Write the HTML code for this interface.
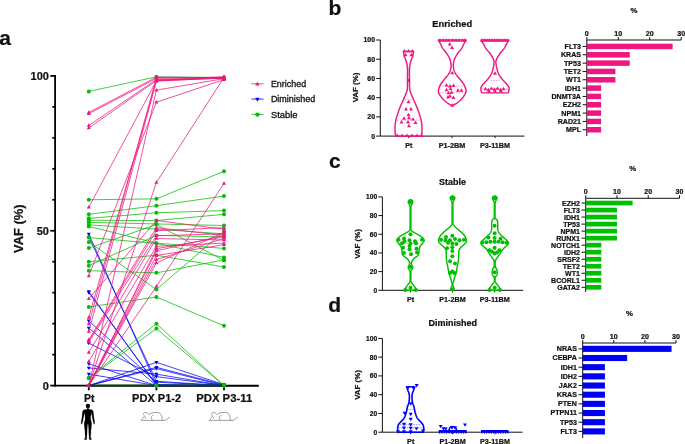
<!DOCTYPE html>
<html><head><meta charset="utf-8"><style>
html,body{margin:0;padding:0;background:#fff;overflow:hidden;}
svg{display:block;will-change:transform;}
text{font-family:"Liberation Sans",sans-serif;fill:#111;stroke:#111;stroke-width:0.22px;}
</style></head><body>
<svg width="685" height="444" viewBox="0 0 685 444">
<rect width="685" height="444" fill="#fff"/>
<text x="-0.7" y="44.8" font-size="21" font-weight="bold" text-anchor="start" >a</text>
<text x="328.4" y="14.9" font-size="21" font-weight="bold" text-anchor="start" >b</text>
<text x="329.1" y="168.2" font-size="21" font-weight="bold" text-anchor="start" >c</text>
<text x="328.3" y="311.5" font-size="21" font-weight="bold" text-anchor="start" >d</text>
<g stroke="#000" stroke-width="1.8" fill="none">
<path d="M55.1,75.00V386.4"/>
<path d="M55.1,385.6H258.7"/>
<path d="M50.3,385.60H55.5"/>
<path d="M52.3,354.63H55.5"/>
<path d="M52.3,323.66H55.5"/>
<path d="M52.3,292.69H55.5"/>
<path d="M52.3,261.72H55.5"/>
<path d="M50.3,230.75H55.5"/>
<path d="M52.3,199.78H55.5"/>
<path d="M52.3,168.81H55.5"/>
<path d="M52.3,137.84H55.5"/>
<path d="M52.3,106.87H55.5"/>
<path d="M50.3,75.90H55.5"/>
<path d="M88.8,385.5V390.3"/>
<path d="M156.4,385.5V390.3"/>
<path d="M224.0,385.5V390.3"/>
</g>
<text x="48.9" y="80.00" font-size="11" font-weight="bold" text-anchor="end" >100</text>
<text x="48.9" y="234.85" font-size="11" font-weight="bold" text-anchor="end" >50</text>
<text x="48.9" y="389.70" font-size="11" font-weight="bold" text-anchor="end" >0</text>
<text x="0" y="0" font-size="12.8" font-weight="bold" text-anchor="middle" textLength="48.5" lengthAdjust="spacingAndGlyphs" transform="translate(23.0,228.65) rotate(-90)">VAF (%)</text>
<text x="89.3" y="401.6" font-size="10.5" font-weight="bold" text-anchor="middle" >Pt</text>
<text x="156.6" y="401.6" font-size="10.5" font-weight="bold" text-anchor="middle" textLength="49" lengthAdjust="spacingAndGlyphs">PDX P1-2</text>
<text x="224.2" y="401.6" font-size="10.5" font-weight="bold" text-anchor="middle" textLength="56" lengthAdjust="spacingAndGlyphs">PDX P3-11</text>
<g stroke="#0000F5" stroke-width="0.75" fill="none">
<polyline points="88.8,234.16 156.4,384.67 224.0,385.60"/>
<polyline points="88.8,236.94 156.4,381.26 224.0,385.60"/>
<polyline points="88.8,291.45 156.4,385.60 224.0,385.60"/>
<polyline points="88.8,292.69 156.4,384.67 224.0,385.60"/>
<polyline points="88.8,320.87 156.4,382.19 224.0,385.60"/>
<polyline points="88.8,328.00 156.4,385.60 224.0,385.60"/>
<polyline points="88.8,343.17 156.4,376.62 224.0,385.60"/>
<polyline points="88.8,363.92 156.4,385.60 224.0,385.60"/>
<polyline points="88.8,367.95 156.4,374.14 224.0,385.60"/>
<polyline points="88.8,374.14 156.4,385.60 224.0,385.60"/>
<polyline points="88.8,385.60 156.4,362.37 224.0,384.67"/>
<polyline points="88.8,385.60 156.4,367.33 224.0,384.98"/>
<polyline points="88.8,385.60 156.4,368.57 224.0,385.60"/>
<polyline points="88.8,385.60 156.4,385.60 224.0,385.60"/>
</g>
<path d="M88.80,236.30L90.80,232.84L86.80,232.84Z" fill="#0000F5"/>
<path d="M156.40,386.82L158.40,383.35L154.40,383.35Z" fill="#0000F5"/>
<path d="M224.00,387.75L226.00,384.28L222.00,384.28Z" fill="#0000F5"/>
<path d="M88.80,239.09L90.80,235.63L86.80,235.63Z" fill="#0000F5"/>
<path d="M156.40,383.41L158.40,379.95L154.40,379.95Z" fill="#0000F5"/>
<path d="M224.00,387.75L226.00,384.28L222.00,384.28Z" fill="#0000F5"/>
<path d="M88.80,293.60L90.80,290.13L86.80,290.13Z" fill="#0000F5"/>
<path d="M156.40,387.75L158.40,384.28L154.40,384.28Z" fill="#0000F5"/>
<path d="M224.00,387.75L226.00,384.28L222.00,384.28Z" fill="#0000F5"/>
<path d="M88.80,294.84L90.80,291.37L86.80,291.37Z" fill="#0000F5"/>
<path d="M156.40,386.82L158.40,383.35L154.40,383.35Z" fill="#0000F5"/>
<path d="M224.00,387.75L226.00,384.28L222.00,384.28Z" fill="#0000F5"/>
<path d="M88.80,323.02L90.80,319.56L86.80,319.56Z" fill="#0000F5"/>
<path d="M156.40,384.34L158.40,380.88L154.40,380.88Z" fill="#0000F5"/>
<path d="M224.00,387.75L226.00,384.28L222.00,384.28Z" fill="#0000F5"/>
<path d="M88.80,330.14L90.80,326.68L86.80,326.68Z" fill="#0000F5"/>
<path d="M156.40,387.75L158.40,384.28L154.40,384.28Z" fill="#0000F5"/>
<path d="M224.00,387.75L226.00,384.28L222.00,384.28Z" fill="#0000F5"/>
<path d="M88.80,345.32L90.80,341.85L86.80,341.85Z" fill="#0000F5"/>
<path d="M156.40,378.77L158.40,375.30L154.40,375.30Z" fill="#0000F5"/>
<path d="M224.00,387.75L226.00,384.28L222.00,384.28Z" fill="#0000F5"/>
<path d="M88.80,366.07L90.80,362.60L86.80,362.60Z" fill="#0000F5"/>
<path d="M156.40,387.75L158.40,384.28L154.40,384.28Z" fill="#0000F5"/>
<path d="M224.00,387.75L226.00,384.28L222.00,384.28Z" fill="#0000F5"/>
<path d="M88.80,370.09L90.80,366.63L86.80,366.63Z" fill="#0000F5"/>
<path d="M156.40,376.29L158.40,372.82L154.40,372.82Z" fill="#0000F5"/>
<path d="M224.00,387.75L226.00,384.28L222.00,384.28Z" fill="#0000F5"/>
<path d="M88.80,376.29L90.80,372.82L86.80,372.82Z" fill="#0000F5"/>
<path d="M156.40,387.75L158.40,384.28L154.40,384.28Z" fill="#0000F5"/>
<path d="M224.00,387.75L226.00,384.28L222.00,384.28Z" fill="#0000F5"/>
<path d="M88.80,387.75L90.80,384.28L86.80,384.28Z" fill="#0000F5"/>
<path d="M156.40,364.52L158.40,361.06L154.40,361.06Z" fill="#0000F5"/>
<path d="M224.00,386.82L226.00,383.35L222.00,383.35Z" fill="#0000F5"/>
<path d="M88.80,387.75L90.80,384.28L86.80,384.28Z" fill="#0000F5"/>
<path d="M156.40,369.48L158.40,366.01L154.40,366.01Z" fill="#0000F5"/>
<path d="M224.00,387.13L226.00,383.66L222.00,383.66Z" fill="#0000F5"/>
<path d="M88.80,387.75L90.80,384.28L86.80,384.28Z" fill="#0000F5"/>
<path d="M156.40,370.71L158.40,367.25L154.40,367.25Z" fill="#0000F5"/>
<path d="M224.00,387.75L226.00,384.28L222.00,384.28Z" fill="#0000F5"/>
<path d="M88.80,387.75L90.80,384.28L86.80,384.28Z" fill="#0000F5"/>
<path d="M156.40,387.75L158.40,384.28L154.40,384.28Z" fill="#0000F5"/>
<path d="M224.00,387.75L226.00,384.28L222.00,384.28Z" fill="#0000F5"/>
<g stroke="#00BE00" stroke-width="0.75" fill="none">
<polyline points="88.8,91.39 156.4,76.83 224.0,77.45"/>
<polyline points="88.8,199.78 156.4,198.85 224.0,171.29"/>
<polyline points="88.8,214.34 156.4,205.66 224.0,196.06"/>
<polyline points="88.8,218.36 156.4,212.79 224.0,210.62"/>
<polyline points="88.8,220.22 156.4,220.53 224.0,214.34"/>
<polyline points="88.8,222.39 156.4,223.94 224.0,225.49"/>
<polyline points="88.8,224.87 156.4,229.20 224.0,233.85"/>
<polyline points="88.8,226.41 156.4,243.14 224.0,248.40"/>
<polyline points="88.8,237.56 156.4,243.45 224.0,257.38"/>
<polyline points="88.8,241.90 156.4,289.59 224.0,231.37"/>
<polyline points="88.8,248.09 156.4,224.56 224.0,260.48"/>
<polyline points="88.8,261.72 156.4,255.22 224.0,266.98"/>
<polyline points="88.8,265.75 156.4,235.40 224.0,236.94"/>
<polyline points="88.8,270.70 156.4,272.87 224.0,259.86"/>
<polyline points="88.8,306.94 156.4,297.03 224.0,325.83"/>
<polyline points="88.8,377.86 156.4,323.66 224.0,385.60"/>
<polyline points="88.8,378.17 156.4,328.62 224.0,385.60"/>
<polyline points="88.8,385.60 156.4,385.60 224.0,385.60"/>
<polyline points="88.8,385.60 156.4,385.60 224.0,385.60"/>
</g>
<circle cx="88.80" cy="91.39" r="2.0" fill="#00BE00"/>
<circle cx="156.40" cy="76.83" r="2.0" fill="#00BE00"/>
<circle cx="224.00" cy="77.45" r="2.0" fill="#00BE00"/>
<circle cx="88.80" cy="199.78" r="2.0" fill="#00BE00"/>
<circle cx="156.40" cy="198.85" r="2.0" fill="#00BE00"/>
<circle cx="224.00" cy="171.29" r="2.0" fill="#00BE00"/>
<circle cx="88.80" cy="214.34" r="2.0" fill="#00BE00"/>
<circle cx="156.40" cy="205.66" r="2.0" fill="#00BE00"/>
<circle cx="224.00" cy="196.06" r="2.0" fill="#00BE00"/>
<circle cx="88.80" cy="218.36" r="2.0" fill="#00BE00"/>
<circle cx="156.40" cy="212.79" r="2.0" fill="#00BE00"/>
<circle cx="224.00" cy="210.62" r="2.0" fill="#00BE00"/>
<circle cx="88.80" cy="220.22" r="2.0" fill="#00BE00"/>
<circle cx="156.40" cy="220.53" r="2.0" fill="#00BE00"/>
<circle cx="224.00" cy="214.34" r="2.0" fill="#00BE00"/>
<circle cx="88.80" cy="222.39" r="2.0" fill="#00BE00"/>
<circle cx="156.40" cy="223.94" r="2.0" fill="#00BE00"/>
<circle cx="224.00" cy="225.49" r="2.0" fill="#00BE00"/>
<circle cx="88.80" cy="224.87" r="2.0" fill="#00BE00"/>
<circle cx="156.40" cy="229.20" r="2.0" fill="#00BE00"/>
<circle cx="224.00" cy="233.85" r="2.0" fill="#00BE00"/>
<circle cx="88.80" cy="226.41" r="2.0" fill="#00BE00"/>
<circle cx="156.40" cy="243.14" r="2.0" fill="#00BE00"/>
<circle cx="224.00" cy="248.40" r="2.0" fill="#00BE00"/>
<circle cx="88.80" cy="237.56" r="2.0" fill="#00BE00"/>
<circle cx="156.40" cy="243.45" r="2.0" fill="#00BE00"/>
<circle cx="224.00" cy="257.38" r="2.0" fill="#00BE00"/>
<circle cx="88.80" cy="241.90" r="2.0" fill="#00BE00"/>
<circle cx="156.40" cy="289.59" r="2.0" fill="#00BE00"/>
<circle cx="224.00" cy="231.37" r="2.0" fill="#00BE00"/>
<circle cx="88.80" cy="248.09" r="2.0" fill="#00BE00"/>
<circle cx="156.40" cy="224.56" r="2.0" fill="#00BE00"/>
<circle cx="224.00" cy="260.48" r="2.0" fill="#00BE00"/>
<circle cx="88.80" cy="261.72" r="2.0" fill="#00BE00"/>
<circle cx="156.40" cy="255.22" r="2.0" fill="#00BE00"/>
<circle cx="224.00" cy="266.98" r="2.0" fill="#00BE00"/>
<circle cx="88.80" cy="265.75" r="2.0" fill="#00BE00"/>
<circle cx="156.40" cy="235.40" r="2.0" fill="#00BE00"/>
<circle cx="224.00" cy="236.94" r="2.0" fill="#00BE00"/>
<circle cx="88.80" cy="270.70" r="2.0" fill="#00BE00"/>
<circle cx="156.40" cy="272.87" r="2.0" fill="#00BE00"/>
<circle cx="224.00" cy="259.86" r="2.0" fill="#00BE00"/>
<circle cx="88.80" cy="306.94" r="2.0" fill="#00BE00"/>
<circle cx="156.40" cy="297.03" r="2.0" fill="#00BE00"/>
<circle cx="224.00" cy="325.83" r="2.0" fill="#00BE00"/>
<circle cx="88.80" cy="377.86" r="2.0" fill="#00BE00"/>
<circle cx="156.40" cy="323.66" r="2.0" fill="#00BE00"/>
<circle cx="224.00" cy="385.60" r="2.0" fill="#00BE00"/>
<circle cx="88.80" cy="378.17" r="2.0" fill="#00BE00"/>
<circle cx="156.40" cy="328.62" r="2.0" fill="#00BE00"/>
<circle cx="224.00" cy="385.60" r="2.0" fill="#00BE00"/>
<circle cx="88.80" cy="385.60" r="2.0" fill="#00BE00"/>
<circle cx="156.40" cy="385.60" r="2.0" fill="#00BE00"/>
<circle cx="224.00" cy="385.60" r="2.0" fill="#00BE00"/>
<circle cx="88.80" cy="385.60" r="2.0" fill="#00BE00"/>
<circle cx="156.40" cy="385.60" r="2.0" fill="#00BE00"/>
<circle cx="224.00" cy="385.60" r="2.0" fill="#00BE00"/>
<g stroke="#EE1680" stroke-width="0.75" fill="none">
<polyline points="88.8,112.44 156.4,77.14 224.0,77.76"/>
<polyline points="88.8,113.68 156.4,78.38 224.0,77.14"/>
<polyline points="88.8,125.45 156.4,79.62 224.0,78.38"/>
<polyline points="88.8,127.93 156.4,80.55 224.0,77.45"/>
<polyline points="88.8,207.21 156.4,80.86 224.0,78.07"/>
<polyline points="88.8,275.97 156.4,102.22 224.0,79.62"/>
<polyline points="88.8,317.47 156.4,80.24 224.0,76.83"/>
<polyline points="88.8,323.97 156.4,77.76 224.0,78.38"/>
<polyline points="88.8,331.40 156.4,81.16 224.0,77.76"/>
<polyline points="88.8,385.60 156.4,90.15 224.0,78.69"/>
<polyline points="88.8,385.60 156.4,182.44 224.0,77.45"/>
<polyline points="88.8,298.57 156.4,220.53 224.0,229.20"/>
<polyline points="88.8,339.76 156.4,227.65 224.0,235.40"/>
<polyline points="88.8,341.00 156.4,230.75 224.0,227.65"/>
<polyline points="88.8,342.24 156.4,235.71 224.0,233.85"/>
<polyline points="88.8,352.46 156.4,238.49 224.0,240.04"/>
<polyline points="88.8,361.44 156.4,246.24 224.0,243.14"/>
<polyline points="88.8,385.60 156.4,248.71 224.0,236.94"/>
<polyline points="88.8,385.60 156.4,250.88 224.0,235.40"/>
<polyline points="88.8,385.60 156.4,255.53 224.0,244.69"/>
<polyline points="88.8,385.60 156.4,259.55 224.0,238.49"/>
<polyline points="88.8,385.60 156.4,262.96 224.0,232.30"/>
<polyline points="88.8,385.60 156.4,286.50 224.0,183.37"/>
</g>
<path d="M88.80,110.30L90.80,113.76L86.80,113.76Z" fill="#EE1680"/>
<path d="M156.40,74.99L158.40,78.46L154.40,78.46Z" fill="#EE1680"/>
<path d="M224.00,75.61L226.00,79.07L222.00,79.07Z" fill="#EE1680"/>
<path d="M88.80,111.54L90.80,115.00L86.80,115.00Z" fill="#EE1680"/>
<path d="M156.40,76.23L158.40,79.69L154.40,79.69Z" fill="#EE1680"/>
<path d="M224.00,74.99L226.00,78.46L222.00,78.46Z" fill="#EE1680"/>
<path d="M88.80,123.30L90.80,126.77L86.80,126.77Z" fill="#EE1680"/>
<path d="M156.40,77.47L158.40,80.93L154.40,80.93Z" fill="#EE1680"/>
<path d="M224.00,76.23L226.00,79.69L222.00,79.69Z" fill="#EE1680"/>
<path d="M88.80,125.78L90.80,129.25L86.80,129.25Z" fill="#EE1680"/>
<path d="M156.40,78.40L158.40,81.86L154.40,81.86Z" fill="#EE1680"/>
<path d="M224.00,75.30L226.00,78.76L222.00,78.76Z" fill="#EE1680"/>
<path d="M88.80,205.07L90.80,208.53L86.80,208.53Z" fill="#EE1680"/>
<path d="M156.40,78.71L158.40,82.17L154.40,82.17Z" fill="#EE1680"/>
<path d="M224.00,75.92L226.00,79.38L222.00,79.38Z" fill="#EE1680"/>
<path d="M88.80,273.82L90.80,277.28L86.80,277.28Z" fill="#EE1680"/>
<path d="M156.40,100.08L158.40,103.54L154.40,103.54Z" fill="#EE1680"/>
<path d="M224.00,77.47L226.00,80.93L222.00,80.93Z" fill="#EE1680"/>
<path d="M88.80,315.32L90.80,318.78L86.80,318.78Z" fill="#EE1680"/>
<path d="M156.40,78.09L158.40,81.55L154.40,81.55Z" fill="#EE1680"/>
<path d="M224.00,74.68L226.00,78.15L222.00,78.15Z" fill="#EE1680"/>
<path d="M88.80,321.82L90.80,325.29L86.80,325.29Z" fill="#EE1680"/>
<path d="M156.40,75.61L158.40,79.07L154.40,79.07Z" fill="#EE1680"/>
<path d="M224.00,76.23L226.00,79.69L222.00,79.69Z" fill="#EE1680"/>
<path d="M88.80,329.25L90.80,332.72L86.80,332.72Z" fill="#EE1680"/>
<path d="M156.40,79.02L158.40,82.48L154.40,82.48Z" fill="#EE1680"/>
<path d="M224.00,75.61L226.00,79.07L222.00,79.07Z" fill="#EE1680"/>
<path d="M88.80,383.45L90.80,386.92L86.80,386.92Z" fill="#EE1680"/>
<path d="M156.40,88.00L158.40,91.46L154.40,91.46Z" fill="#EE1680"/>
<path d="M224.00,76.54L226.00,80.00L222.00,80.00Z" fill="#EE1680"/>
<path d="M88.80,383.45L90.80,386.92L86.80,386.92Z" fill="#EE1680"/>
<path d="M156.40,180.29L158.40,183.75L154.40,183.75Z" fill="#EE1680"/>
<path d="M224.00,75.30L226.00,78.76L222.00,78.76Z" fill="#EE1680"/>
<path d="M88.80,296.43L90.80,299.89L86.80,299.89Z" fill="#EE1680"/>
<path d="M156.40,218.38L158.40,221.85L154.40,221.85Z" fill="#EE1680"/>
<path d="M224.00,227.05L226.00,230.52L222.00,230.52Z" fill="#EE1680"/>
<path d="M88.80,337.62L90.80,341.08L86.80,341.08Z" fill="#EE1680"/>
<path d="M156.40,225.51L158.40,228.97L154.40,228.97Z" fill="#EE1680"/>
<path d="M224.00,233.25L226.00,236.71L222.00,236.71Z" fill="#EE1680"/>
<path d="M88.80,338.86L90.80,342.32L86.80,342.32Z" fill="#EE1680"/>
<path d="M156.40,228.60L158.40,232.07L154.40,232.07Z" fill="#EE1680"/>
<path d="M224.00,225.51L226.00,228.97L222.00,228.97Z" fill="#EE1680"/>
<path d="M88.80,340.09L90.80,343.56L86.80,343.56Z" fill="#EE1680"/>
<path d="M156.40,233.56L158.40,237.02L154.40,237.02Z" fill="#EE1680"/>
<path d="M224.00,231.70L226.00,235.16L222.00,235.16Z" fill="#EE1680"/>
<path d="M88.80,350.31L90.80,353.78L86.80,353.78Z" fill="#EE1680"/>
<path d="M156.40,236.34L158.40,239.81L154.40,239.81Z" fill="#EE1680"/>
<path d="M224.00,237.89L226.00,241.36L222.00,241.36Z" fill="#EE1680"/>
<path d="M88.80,359.30L90.80,362.76L86.80,362.76Z" fill="#EE1680"/>
<path d="M156.40,244.09L158.40,247.55L154.40,247.55Z" fill="#EE1680"/>
<path d="M224.00,240.99L226.00,244.45L222.00,244.45Z" fill="#EE1680"/>
<path d="M88.80,383.45L90.80,386.92L86.80,386.92Z" fill="#EE1680"/>
<path d="M156.40,246.56L158.40,250.03L154.40,250.03Z" fill="#EE1680"/>
<path d="M224.00,234.80L226.00,238.26L222.00,238.26Z" fill="#EE1680"/>
<path d="M88.80,383.45L90.80,386.92L86.80,386.92Z" fill="#EE1680"/>
<path d="M156.40,248.73L158.40,252.20L154.40,252.20Z" fill="#EE1680"/>
<path d="M224.00,233.25L226.00,236.71L222.00,236.71Z" fill="#EE1680"/>
<path d="M88.80,383.45L90.80,386.92L86.80,386.92Z" fill="#EE1680"/>
<path d="M156.40,253.38L158.40,256.84L154.40,256.84Z" fill="#EE1680"/>
<path d="M224.00,242.54L226.00,246.00L222.00,246.00Z" fill="#EE1680"/>
<path d="M88.80,383.45L90.80,386.92L86.80,386.92Z" fill="#EE1680"/>
<path d="M156.40,257.40L158.40,260.87L154.40,260.87Z" fill="#EE1680"/>
<path d="M224.00,236.34L226.00,239.81L222.00,239.81Z" fill="#EE1680"/>
<path d="M88.80,383.45L90.80,386.92L86.80,386.92Z" fill="#EE1680"/>
<path d="M156.40,260.81L158.40,264.28L154.40,264.28Z" fill="#EE1680"/>
<path d="M224.00,230.15L226.00,233.61L222.00,233.61Z" fill="#EE1680"/>
<path d="M88.80,383.45L90.80,386.92L86.80,386.92Z" fill="#EE1680"/>
<path d="M156.40,284.35L158.40,287.81L154.40,287.81Z" fill="#EE1680"/>
<path d="M224.00,181.22L226.00,184.68L222.00,184.68Z" fill="#EE1680"/>
<path d="M88.8,385.9H258.7" stroke="#000" stroke-width="1.2"/>
<path d="M88.8,385.05H224" stroke="#0B5E0B" stroke-width="1.0"/>
<circle cx="156.40" cy="385.60" r="2.0" fill="#00BE00"/>
<circle cx="224.00" cy="385.60" r="2.0" fill="#00BE00"/>
<path d="M88.80,383.45L90.80,386.92L86.80,386.92Z" fill="#EE1680"/>
<path d="M251.4,83.8H263.5" stroke="#EE1680" stroke-width="0.8"/>
<path d="M257.40,81.64L259.60,85.45L255.20,85.45Z" fill="#EE1680"/>
<text x="270.9" y="87.1" font-size="9.1" font-weight="normal" text-anchor="start" textLength="35.3" lengthAdjust="spacingAndGlyphs" style="stroke-width:0.3px">Enriched</text>
<path d="M251.4,99.1H263.5" stroke="#0000F5" stroke-width="0.8"/>
<path d="M257.40,101.66L259.60,97.85L255.20,97.85Z" fill="#0000F5"/>
<text x="270.9" y="102.39999999999999" font-size="9.1" font-weight="normal" text-anchor="start" textLength="44.4" lengthAdjust="spacingAndGlyphs" style="stroke-width:0.3px">Diminished</text>
<path d="M251.4,114.4H263.5" stroke="#00BE00" stroke-width="0.8"/>
<circle cx="257.40" cy="114.60" r="2.2" fill="#00BE00"/>
<text x="270.9" y="117.7" font-size="9.1" font-weight="normal" text-anchor="start" textLength="26.6" lengthAdjust="spacingAndGlyphs" style="stroke-width:0.3px">Stable</text>
<path d="M87.92,408.14L88.77,408.23L88.96,409.18L90.19,409.46L91.89,409.74L92.84,410.41L93.31,411.54L93.60,414.19L93.88,417.03L94.35,419.87L94.64,422.04L94.73,423.46L94.35,424.31L93.79,423.75L93.22,421.95L92.65,419.39L92.08,416.56L91.61,414.19L91.33,413.06L91.04,414.19L90.76,416.56L90.66,418.92L91.04,420.81L91.61,422.52L91.61,424.79L91.33,427.63L90.95,430.46L90.85,433.30L90.66,436.42L90.57,437.84L91.23,438.60L91.70,439.36L90.95,439.83L89.43,439.83L89.15,438.60L88.96,436.42L88.77,432.64L88.58,428.38L88.30,424.79L87.92,423.84L87.54,424.79L87.26,428.38L87.07,432.64L86.88,436.42L86.69,438.60L86.41,439.83L84.89,439.83L84.14,439.36L84.61,438.60L85.27,437.84L85.18,436.42L84.99,433.30L84.89,430.46L84.51,427.63L84.23,424.79L84.23,422.52L84.80,420.81L85.18,418.92L85.08,416.56L84.80,414.19L84.51,413.06L84.23,414.19L83.76,416.56L83.19,419.39L82.62,421.95L82.05,423.75L81.49,424.31L81.11,423.46L81.20,422.04L81.49,419.87L81.96,417.03L82.24,414.19L82.53,411.54L83.00,410.41L83.95,409.74L85.65,409.46L86.88,409.18L87.07,408.23L87.92,408.14Z" fill="#000" stroke="#000" stroke-width="0.15" stroke-linejoin="round"/><ellipse cx="87.92" cy="405.96" rx="2.15" ry="2.3" fill="#000"/>
<path d="M141.2,420.4H165.29999999999998M141.2,420.4L144.6,416.0M144.6,416.0C142.79999999999998,414.9 143.6,412.4 145.2,412.4C146.6,412.2 147.79999999999998,413.2 148.79999999999998,414.5M148.79999999999998,414.5C150.2,413.6 151.7,412.7 153.79999999999998,412.5H158.2C160.5,412.7 161.7,415.2 162.2,418.7L162.39999999999998,420.4M165.29999999999998,420.4L169.79999999999998,417.1M153.5,415.2C151.6,415.8 150.6,417.2 151.6,418.6L152.2,420.4" stroke="#555" stroke-width="0.55" fill="none"/><circle cx="145.5" cy="417.9" r="0.6" fill="#e33"/>
<path d="M209.3,420.4H233.4M209.3,420.4L212.70000000000002,416.0M212.70000000000002,416.0C210.9,414.9 211.70000000000002,412.4 213.3,412.4C214.70000000000002,412.2 215.9,413.2 216.9,414.5M216.9,414.5C218.3,413.6 219.8,412.7 221.9,412.5H226.3C228.60000000000002,412.7 229.8,415.2 230.3,418.7L230.5,420.4M233.4,420.4L237.9,417.1M221.60000000000002,415.2C219.70000000000002,415.8 218.70000000000002,417.2 219.70000000000002,418.6L220.3,420.4" stroke="#555" stroke-width="0.55" fill="none"/><circle cx="213.60000000000002" cy="417.9" r="0.6" fill="#e33"/>
<g stroke="#111" stroke-width="1.0" fill="none">
<path d="M380.3,40.00V136.10H524.4"/>
<path d="M376.2,136.10H380.3"/>
<path d="M376.2,116.88H380.3"/>
<path d="M376.2,97.66H380.3"/>
<path d="M376.2,78.44H380.3"/>
<path d="M376.2,59.22H380.3"/>
<path d="M376.2,40.00H380.3"/>
<path d="M408.8,136.10v2"/>
<path d="M452.0,136.10v2"/>
<path d="M495.0,136.10v2"/>
</g>
<text x="375.0" y="138.55" font-size="6.9" font-weight="bold" text-anchor="end" >0</text>
<text x="375.0" y="119.33" font-size="6.9" font-weight="bold" text-anchor="end" >20</text>
<text x="375.0" y="100.11" font-size="6.9" font-weight="bold" text-anchor="end" >40</text>
<text x="375.0" y="80.89" font-size="6.9" font-weight="bold" text-anchor="end" >60</text>
<text x="375.0" y="61.67" font-size="6.9" font-weight="bold" text-anchor="end" >80</text>
<text x="375.0" y="42.45" font-size="6.9" font-weight="bold" text-anchor="end" >100</text>
<text x="408.8" y="147.70" font-size="7.2" font-weight="bold" text-anchor="middle" >Pt</text>
<text x="452.0" y="147.70" font-size="7.2" font-weight="bold" text-anchor="middle" >P1-2BM</text>
<text x="495.0" y="147.70" font-size="7.2" font-weight="bold" text-anchor="middle" >P3-11BM</text>
<text x="0" y="0" font-size="7.9" font-weight="bold" text-anchor="middle" transform="translate(358.1,87.5) rotate(-90)">VAF (%)</text>
<text x="452.2" y="27.15" font-size="9.3" font-weight="bold" text-anchor="middle" >Enriched</text>
<path d="M397.0,120.05H420.0" stroke="#EE1680" stroke-width="0.6" stroke-dasharray="1.6,1.1" opacity="0.75"/>
<path d="M404.5,99.58H412.5" stroke="#EE1680" stroke-width="0.6" stroke-dasharray="1.6,1.1" opacity="0.75"/>
<path d="M439.7,92.85H464.7" stroke="#EE1680" stroke-width="0.6" stroke-dasharray="1.6,1.1" opacity="0.75"/>
<path d="M439.7,86.13H464.7" stroke="#EE1680" stroke-width="0.6" stroke-dasharray="1.6,1.1" opacity="0.75"/>
<path d="M490.5,80.36H499.5" stroke="#EE1680" stroke-width="0.6" stroke-dasharray="1.6,1.1" opacity="0.75"/>
<path d="M482,89.01H508" stroke="#EE1680" stroke-width="0.6" stroke-dasharray="1.6,1.1" opacity="0.75"/>
<path d="M413.50,51.53L413.49,51.68L413.47,51.87L413.45,52.09L413.43,52.34L413.40,52.61L413.37,52.89L413.34,53.18L413.30,53.45L413.27,53.72L413.24,54.00L413.21,54.28L413.17,54.57L413.13,54.86L413.08,55.18L413.00,55.51L412.90,55.86L412.77,56.22L412.62,56.61L412.44,57.01L412.26,57.42L412.06,57.85L411.87,58.29L411.68,58.75L411.50,59.22L411.33,59.71L411.15,60.21L410.98,60.73L410.81,61.26L410.64,61.81L410.48,62.37L410.33,62.95L410.20,63.54L410.08,64.13L409.97,64.70L409.86,65.27L409.77,65.86L409.68,66.49L409.61,67.18L409.55,67.96L409.50,68.83L409.47,69.82L409.45,70.93L409.44,72.12L409.45,73.36L409.46,74.65L409.48,75.94L409.49,77.21L409.50,78.44L409.50,79.69L409.51,81.00L409.51,82.34L409.52,83.67L409.53,84.94L409.54,86.12L409.57,87.17L409.60,88.05L409.64,88.72L409.67,89.21L409.71,89.56L409.76,89.82L409.81,90.04L409.89,90.27L409.98,90.55L410.10,90.93L410.24,91.40L410.40,91.88L410.58,92.39L410.78,92.93L410.99,93.48L411.22,94.05L411.45,94.65L411.70,95.26L411.96,95.89L412.23,96.53L412.52,97.20L412.81,97.89L413.12,98.59L413.44,99.32L413.77,100.07L414.10,100.83L414.45,101.63L414.82,102.45L415.21,103.30L415.60,104.17L415.99,105.05L416.38,105.93L416.75,106.80L417.10,107.65L417.43,108.50L417.76,109.34L418.07,110.18L418.38,111.02L418.67,111.86L418.96,112.70L419.23,113.54L419.50,114.38L419.76,115.22L420.02,116.06L420.27,116.90L420.51,117.74L420.73,118.59L420.94,119.43L421.13,120.27L421.30,121.11L421.45,121.96L421.57,122.82L421.68,123.69L421.77,124.56L421.85,125.41L421.91,126.25L421.96,127.06L422.00,127.84L422.02,128.59L422.02,129.33L422.00,130.06L421.98,130.77L421.94,131.44L421.89,132.08L421.85,132.67L421.80,133.22L421.75,133.72L421.68,134.18L421.61,134.61L421.54,134.99L421.46,135.34L421.40,135.64L421.34,135.89L421.30,136.10L395.70,136.10L395.66,135.89L395.60,135.64L395.54,135.34L395.46,134.99L395.39,134.61L395.32,134.18L395.25,133.72L395.20,133.22L395.15,132.67L395.11,132.08L395.06,131.44L395.02,130.77L395.00,130.06L394.98,129.33L394.98,128.59L395.00,127.84L395.04,127.06L395.09,126.25L395.15,125.41L395.23,124.56L395.32,123.69L395.43,122.82L395.55,121.96L395.70,121.11L395.87,120.27L396.06,119.43L396.27,118.59L396.49,117.74L396.73,116.90L396.98,116.06L397.24,115.22L397.50,114.38L397.77,113.54L398.04,112.70L398.33,111.86L398.62,111.02L398.93,110.18L399.24,109.34L399.57,108.50L399.90,107.65L400.25,106.80L400.62,105.93L401.01,105.05L401.40,104.17L401.79,103.30L402.18,102.45L402.55,101.63L402.90,100.83L403.23,100.07L403.56,99.32L403.88,98.59L404.19,97.89L404.48,97.20L404.77,96.53L405.04,95.89L405.30,95.26L405.55,94.65L405.78,94.05L406.01,93.48L406.22,92.93L406.42,92.39L406.60,91.88L406.76,91.40L406.90,90.93L407.02,90.55L407.11,90.27L407.19,90.04L407.24,89.82L407.29,89.56L407.33,89.21L407.36,88.72L407.40,88.05L407.43,87.17L407.46,86.12L407.47,84.94L407.48,83.67L407.49,82.34L407.49,81.00L407.50,79.69L407.50,78.44L407.51,77.21L407.52,75.94L407.54,74.65L407.55,73.36L407.56,72.12L407.55,70.93L407.53,69.82L407.50,68.83L407.45,67.96L407.39,67.18L407.32,66.49L407.23,65.86L407.14,65.27L407.03,64.70L406.92,64.13L406.80,63.54L406.67,62.95L406.52,62.37L406.36,61.81L406.19,61.26L406.02,60.73L405.85,60.21L405.67,59.71L405.50,59.22L405.32,58.75L405.13,58.29L404.94,57.85L404.74,57.42L404.56,57.01L404.38,56.61L404.23,56.22L404.10,55.86L404.00,55.51L403.92,55.18L403.87,54.86L403.83,54.57L403.79,54.28L403.76,54.00L403.73,53.72L403.70,53.45L403.66,53.18L403.63,52.89L403.60,52.61L403.57,52.34L403.55,52.09L403.53,51.87L403.51,51.68L403.50,51.53Z" fill="none" stroke="#EE1680" stroke-width="1.45" stroke-linejoin="round"/>
<path d="M466.10,40.00L466.02,40.14L465.91,40.32L465.79,40.54L465.65,40.78L465.50,41.05L465.34,41.33L465.17,41.62L465.00,41.92L464.83,42.23L464.64,42.55L464.45,42.89L464.25,43.24L464.04,43.61L463.83,43.99L463.62,44.39L463.40,44.80L463.19,45.23L462.99,45.68L462.79,46.13L462.59,46.61L462.36,47.09L462.12,47.60L461.83,48.12L461.50,48.65L461.11,49.20L460.66,49.77L460.18,50.36L459.67,50.97L459.15,51.58L458.64,52.20L458.15,52.83L457.70,53.45L457.27,54.09L456.85,54.74L456.44,55.41L456.04,56.07L455.66,56.74L455.30,57.39L454.98,58.03L454.70,58.64L454.46,59.24L454.25,59.82L454.07,60.38L453.92,60.94L453.79,61.48L453.68,62.02L453.59,62.54L453.50,63.06L453.43,63.57L453.38,64.07L453.34,64.55L453.33,65.02L453.32,65.49L453.34,65.96L453.36,66.43L453.40,66.91L453.45,67.39L453.51,67.87L453.58,68.35L453.67,68.83L453.77,69.31L453.89,69.79L454.04,70.27L454.20,70.75L454.38,71.23L454.58,71.70L454.80,72.17L455.03,72.64L455.29,73.12L455.57,73.60L455.87,74.09L456.20,74.60L456.56,75.11L456.96,75.62L457.38,76.14L457.82,76.67L458.28,77.21L458.75,77.76L459.23,78.33L459.70,78.92L460.19,79.54L460.71,80.19L461.25,80.85L461.79,81.53L462.32,82.22L462.83,82.90L463.29,83.56L463.70,84.21L464.06,84.84L464.39,85.46L464.68,86.09L464.95,86.70L465.18,87.30L465.39,87.89L465.56,88.46L465.70,89.01L465.82,89.53L465.92,90.00L466.00,90.46L466.04,90.90L466.04,91.34L465.99,91.81L465.88,92.31L465.70,92.85L465.44,93.46L465.09,94.12L464.69,94.81L464.23,95.52L463.74,96.24L463.23,96.94L462.71,97.61L462.20,98.24L461.69,98.83L461.15,99.41L460.59,99.97L460.03,100.51L459.45,101.03L458.86,101.53L458.28,102.01L457.70,102.47L457.09,102.91L456.43,103.35L455.75,103.77L455.07,104.17L454.43,104.54L453.85,104.86L453.36,105.13L453.00,105.35L451.40,105.35L451.04,105.13L450.55,104.86L449.97,104.54L449.33,104.17L448.65,103.77L447.97,103.35L447.31,102.91L446.70,102.47L446.12,102.01L445.54,101.53L444.95,101.03L444.37,100.51L443.81,99.97L443.25,99.41L442.71,98.83L442.20,98.24L441.69,97.61L441.17,96.94L440.66,96.24L440.17,95.52L439.71,94.81L439.31,94.12L438.96,93.46L438.70,92.85L438.52,92.31L438.41,91.81L438.36,91.34L438.36,90.90L438.40,90.46L438.48,90.00L438.58,89.53L438.70,89.01L438.84,88.46L439.01,87.89L439.22,87.30L439.45,86.70L439.72,86.09L440.01,85.46L440.34,84.84L440.70,84.21L441.11,83.56L441.57,82.90L442.08,82.22L442.61,81.53L443.15,80.85L443.69,80.19L444.21,79.54L444.70,78.92L445.17,78.33L445.65,77.76L446.12,77.21L446.57,76.67L447.02,76.14L447.44,75.62L447.84,75.11L448.20,74.60L448.53,74.09L448.83,73.60L449.11,73.12L449.37,72.64L449.60,72.17L449.82,71.70L450.02,71.23L450.20,70.75L450.36,70.27L450.51,69.79L450.63,69.31L450.73,68.83L450.82,68.35L450.89,67.87L450.95,67.39L451.00,66.91L451.04,66.43L451.06,65.96L451.08,65.49L451.07,65.02L451.06,64.55L451.02,64.07L450.97,63.57L450.90,63.06L450.81,62.54L450.72,62.02L450.61,61.48L450.48,60.94L450.33,60.38L450.15,59.82L449.94,59.24L449.70,58.64L449.42,58.03L449.10,57.39L448.74,56.74L448.36,56.07L447.96,55.41L447.55,54.74L447.13,54.09L446.70,53.45L446.25,52.83L445.76,52.20L445.25,51.58L444.73,50.97L444.22,50.36L443.74,49.77L443.29,49.20L442.90,48.65L442.57,48.12L442.28,47.60L442.04,47.09L441.81,46.61L441.61,46.13L441.41,45.68L441.21,45.23L441.00,44.80L440.78,44.39L440.57,43.99L440.36,43.61L440.15,43.24L439.95,42.89L439.76,42.55L439.57,42.23L439.40,41.92L439.23,41.62L439.06,41.33L438.90,41.05L438.75,40.78L438.61,40.54L438.49,40.32L438.38,40.14L438.30,40.00Z" fill="none" stroke="#EE1680" stroke-width="1.45" stroke-linejoin="round"/>
<path d="M509.00,40.00L508.91,40.14L508.80,40.32L508.66,40.54L508.51,40.78L508.35,41.05L508.17,41.33L507.99,41.62L507.80,41.92L507.61,42.23L507.40,42.55L507.18,42.89L506.95,43.24L506.72,43.61L506.48,43.99L506.24,44.39L506.00,44.80L505.77,45.23L505.56,45.68L505.35,46.13L505.14,46.61L504.91,47.09L504.65,47.60L504.35,48.12L504.00,48.65L503.59,49.19L503.14,49.74L502.64,50.30L502.11,50.87L501.57,51.47L501.03,52.10L500.50,52.75L500.00,53.45L499.49,54.22L498.95,55.05L498.39,55.92L497.85,56.82L497.34,57.71L496.88,58.59L496.49,59.42L496.20,60.18L496.01,60.88L495.91,61.54L495.89,62.17L495.91,62.76L495.97,63.34L496.05,63.90L496.14,64.44L496.20,64.99L496.26,65.51L496.33,65.99L496.41,66.46L496.51,66.91L496.61,67.36L496.73,67.82L496.86,68.31L497.00,68.83L497.14,69.38L497.28,69.95L497.42,70.54L497.58,71.14L497.76,71.76L497.97,72.38L498.21,73.00L498.50,73.63L498.84,74.28L499.22,74.95L499.64,75.62L500.09,76.31L500.56,76.99L501.04,77.66L501.52,78.30L502.00,78.92L502.48,79.51L502.99,80.08L503.52,80.63L504.04,81.17L504.57,81.70L505.07,82.22L505.55,82.73L506.00,83.25L506.43,83.76L506.85,84.26L507.25,84.76L507.64,85.26L507.99,85.74L508.31,86.21L508.58,86.66L508.80,87.09L508.95,87.50L509.05,87.90L509.09,88.28L509.10,88.65L509.08,89.00L509.05,89.34L509.02,89.66L509.00,89.97L508.98,90.26L508.95,90.54L508.91,90.81L508.86,91.05L508.81,91.29L508.74,91.50L508.67,91.71L508.60,91.89L508.51,92.07L508.41,92.22L508.29,92.37L508.18,92.49L508.06,92.61L507.95,92.70L507.86,92.79L507.80,92.85L482.20,92.85L482.14,92.79L482.05,92.70L481.94,92.61L481.82,92.49L481.71,92.37L481.59,92.22L481.49,92.07L481.40,91.89L481.33,91.71L481.26,91.50L481.19,91.29L481.14,91.05L481.09,90.81L481.05,90.54L481.02,90.26L481.00,89.97L480.98,89.66L480.95,89.34L480.92,89.00L480.90,88.65L480.91,88.28L480.95,87.90L481.05,87.50L481.20,87.09L481.42,86.66L481.69,86.21L482.01,85.74L482.36,85.26L482.75,84.76L483.15,84.26L483.57,83.76L484.00,83.25L484.45,82.73L484.93,82.22L485.43,81.70L485.96,81.17L486.48,80.63L487.01,80.08L487.52,79.51L488.00,78.92L488.48,78.30L488.96,77.66L489.44,76.99L489.91,76.31L490.36,75.62L490.78,74.95L491.16,74.28L491.50,73.63L491.79,73.00L492.03,72.38L492.24,71.76L492.42,71.14L492.58,70.54L492.72,69.95L492.86,69.38L493.00,68.83L493.14,68.31L493.27,67.82L493.39,67.36L493.49,66.91L493.59,66.46L493.67,65.99L493.74,65.51L493.80,64.99L493.86,64.44L493.95,63.90L494.03,63.34L494.09,62.76L494.11,62.17L494.09,61.54L493.99,60.88L493.80,60.18L493.51,59.42L493.12,58.59L492.66,57.71L492.15,56.82L491.61,55.92L491.05,55.05L490.51,54.22L490.00,53.45L489.50,52.75L488.97,52.10L488.43,51.47L487.89,50.87L487.36,50.30L486.86,49.74L486.41,49.19L486.00,48.65L485.65,48.12L485.35,47.60L485.09,47.09L484.86,46.61L484.65,46.13L484.44,45.68L484.23,45.23L484.00,44.80L483.76,44.39L483.52,43.99L483.28,43.61L483.05,43.24L482.82,42.89L482.60,42.55L482.39,42.23L482.20,41.92L482.01,41.62L481.83,41.33L481.65,41.05L481.49,40.78L481.34,40.54L481.20,40.32L481.09,40.14L481.00,40.00Z" fill="none" stroke="#EE1680" stroke-width="1.45" stroke-linejoin="round"/>
<path d="M404.50,48.90L406.50,52.37L402.50,52.37Z" fill="#EE1680"/>
<path d="M408.50,48.90L410.50,52.37L406.50,52.37Z" fill="#EE1680"/>
<path d="M412.50,48.90L414.50,52.37L410.50,52.37Z" fill="#EE1680"/>
<path d="M405.50,52.75L407.50,56.21L403.50,56.21Z" fill="#EE1680"/>
<path d="M411.50,52.75L413.50,56.21L409.50,56.21Z" fill="#EE1680"/>
<path d="M408.50,78.60L410.50,82.06L406.50,82.06Z" fill="#EE1680"/>
<path d="M408.50,99.84L410.50,103.30L406.50,103.30Z" fill="#EE1680"/>
<path d="M406.00,107.04L408.00,110.51L404.00,110.51Z" fill="#EE1680"/>
<path d="M411.00,107.04L413.00,110.51L409.00,110.51Z" fill="#EE1680"/>
<path d="M408.50,112.81L410.50,116.27L406.50,116.27Z" fill="#EE1680"/>
<path d="M404.00,116.17L406.00,119.64L402.00,119.64Z" fill="#EE1680"/>
<path d="M409.00,115.69L411.00,119.16L407.00,119.16Z" fill="#EE1680"/>
<path d="M413.00,117.13L415.00,120.60L411.00,120.60Z" fill="#EE1680"/>
<path d="M401.50,120.02L403.50,123.48L399.50,123.48Z" fill="#EE1680"/>
<path d="M408.00,120.02L410.00,123.48L406.00,123.48Z" fill="#EE1680"/>
<path d="M415.50,120.50L417.50,123.96L413.50,123.96Z" fill="#EE1680"/>
<path d="M409.00,123.86L411.00,127.33L407.00,127.33Z" fill="#EE1680"/>
<path d="M397.00,133.47L399.00,136.94L395.00,136.94Z" fill="#EE1680"/>
<path d="M402.00,133.47L404.00,136.94L400.00,136.94Z" fill="#EE1680"/>
<path d="M407.00,133.47L409.00,136.94L405.00,136.94Z" fill="#EE1680"/>
<path d="M412.00,133.47L414.00,136.94L410.00,136.94Z" fill="#EE1680"/>
<path d="M417.00,133.47L419.00,136.94L415.00,136.94Z" fill="#EE1680"/>
<path d="M421.50,133.47L423.50,136.94L419.50,136.94Z" fill="#EE1680"/>
<path d="M440.00,38.33L442.00,41.80L438.00,41.80Z" fill="#EE1680"/>
<path d="M443.00,38.33L445.00,41.80L441.00,41.80Z" fill="#EE1680"/>
<path d="M446.00,38.33L448.00,41.80L444.00,41.80Z" fill="#EE1680"/>
<path d="M449.00,38.33L451.00,41.80L447.00,41.80Z" fill="#EE1680"/>
<path d="M452.50,38.33L454.50,41.80L450.50,41.80Z" fill="#EE1680"/>
<path d="M456.00,38.33L458.00,41.80L454.00,41.80Z" fill="#EE1680"/>
<path d="M459.00,38.33L461.00,41.80L457.00,41.80Z" fill="#EE1680"/>
<path d="M462.50,38.33L464.50,41.80L460.50,41.80Z" fill="#EE1680"/>
<path d="M465.00,38.33L467.00,41.80L463.00,41.80Z" fill="#EE1680"/>
<path d="M449.80,41.98L451.80,45.45L447.80,45.45Z" fill="#EE1680"/>
<path d="M452.00,45.54L454.00,49.00L450.00,49.00Z" fill="#EE1680"/>
<path d="M452.20,70.91L454.20,74.37L450.20,74.37Z" fill="#EE1680"/>
<path d="M446.50,83.02L448.50,86.48L444.50,86.48Z" fill="#EE1680"/>
<path d="M450.00,83.98L452.00,87.44L448.00,87.44Z" fill="#EE1680"/>
<path d="M453.50,83.50L455.50,86.96L451.50,86.96Z" fill="#EE1680"/>
<path d="M446.50,87.82L448.50,91.29L444.50,91.29Z" fill="#EE1680"/>
<path d="M450.50,86.86L452.50,90.33L448.50,90.33Z" fill="#EE1680"/>
<path d="M458.00,88.30L460.00,91.77L456.00,91.77Z" fill="#EE1680"/>
<path d="M461.50,88.30L463.50,91.77L459.50,91.77Z" fill="#EE1680"/>
<path d="M448.50,90.71L450.50,94.17L446.50,94.17Z" fill="#EE1680"/>
<path d="M451.50,90.23L453.50,93.69L449.50,93.69Z" fill="#EE1680"/>
<path d="M450.00,94.07L452.00,97.53L448.00,97.53Z" fill="#EE1680"/>
<path d="M453.50,95.51L455.50,98.98L451.50,98.98Z" fill="#EE1680"/>
<path d="M448.00,95.03L450.00,98.50L446.00,98.50Z" fill="#EE1680"/>
<path d="M452.20,103.20L454.20,106.66L450.20,106.66Z" fill="#EE1680"/>
<path d="M482.00,38.24L484.00,41.70L480.00,41.70Z" fill="#EE1680"/>
<path d="M484.50,38.24L486.50,41.70L482.50,41.70Z" fill="#EE1680"/>
<path d="M487.00,38.24L489.00,41.70L485.00,41.70Z" fill="#EE1680"/>
<path d="M489.50,38.24L491.50,41.70L487.50,41.70Z" fill="#EE1680"/>
<path d="M492.00,38.24L494.00,41.70L490.00,41.70Z" fill="#EE1680"/>
<path d="M494.50,38.24L496.50,41.70L492.50,41.70Z" fill="#EE1680"/>
<path d="M497.00,38.24L499.00,41.70L495.00,41.70Z" fill="#EE1680"/>
<path d="M499.50,38.24L501.50,41.70L497.50,41.70Z" fill="#EE1680"/>
<path d="M502.00,38.24L504.00,41.70L500.00,41.70Z" fill="#EE1680"/>
<path d="M504.50,38.24L506.50,41.70L502.50,41.70Z" fill="#EE1680"/>
<path d="M507.00,38.24L509.00,41.70L505.00,41.70Z" fill="#EE1680"/>
<path d="M495.00,71.20L497.00,74.66L493.00,74.66Z" fill="#EE1680"/>
<path d="M485.50,86.86L487.50,90.33L483.50,90.33Z" fill="#EE1680"/>
<path d="M488.50,87.82L490.50,91.29L486.50,91.29Z" fill="#EE1680"/>
<path d="M491.50,86.38L493.50,89.85L489.50,89.85Z" fill="#EE1680"/>
<path d="M494.50,87.34L496.50,90.81L492.50,90.81Z" fill="#EE1680"/>
<path d="M497.50,86.38L499.50,89.85L495.50,89.85Z" fill="#EE1680"/>
<path d="M500.50,87.82L502.50,91.29L498.50,91.29Z" fill="#EE1680"/>
<path d="M503.50,86.86L505.50,90.33L501.50,90.33Z" fill="#EE1680"/>
<path d="M489.00,89.27L491.00,92.73L487.00,92.73Z" fill="#EE1680"/>
<path d="M495.00,89.27L497.00,92.73L493.00,92.73Z" fill="#EE1680"/>
<path d="M501.00,89.27L503.00,92.73L499.00,92.73Z" fill="#EE1680"/>
<g stroke="#111" stroke-width="1.0" fill="none">
<path d="M586.8,136V40.0H681.21"/>
<path d="M586.80,40.0v-3"/>
<path d="M618.27,40.0v-3"/>
<path d="M649.74,40.0v-3"/>
<path d="M681.21,40.0v-3"/>
<path d="M582.5999999999999,46.45H586.8"/>
<path d="M582.5999999999999,54.78H586.8"/>
<path d="M582.5999999999999,63.11H586.8"/>
<path d="M582.5999999999999,71.44H586.8"/>
<path d="M582.5999999999999,79.77H586.8"/>
<path d="M582.5999999999999,88.10H586.8"/>
<path d="M582.5999999999999,96.43H586.8"/>
<path d="M582.5999999999999,104.76H586.8"/>
<path d="M582.5999999999999,113.09H586.8"/>
<path d="M582.5999999999999,121.42H586.8"/>
<path d="M582.5999999999999,129.75H586.8"/>
</g>
<rect x="586.8" y="43.70" width="85.82" height="5.5" fill="#EE1680"/>
<text x="581.0" y="48.90" font-size="7.1" font-weight="bold" text-anchor="end" >FLT3</text>
<rect x="586.8" y="52.03" width="42.93" height="5.5" fill="#EE1680"/>
<text x="581.0" y="57.23" font-size="7.1" font-weight="bold" text-anchor="end" >KRAS</text>
<rect x="586.8" y="60.36" width="42.93" height="5.5" fill="#EE1680"/>
<text x="581.0" y="65.56" font-size="7.1" font-weight="bold" text-anchor="end" >TP53</text>
<rect x="586.8" y="68.69" width="28.61" height="5.5" fill="#EE1680"/>
<text x="581.0" y="73.89" font-size="7.1" font-weight="bold" text-anchor="end" >TET2</text>
<rect x="586.8" y="77.02" width="28.61" height="5.5" fill="#EE1680"/>
<text x="581.0" y="82.22" font-size="7.1" font-weight="bold" text-anchor="end" >WT1</text>
<rect x="586.8" y="85.35" width="14.32" height="5.5" fill="#EE1680"/>
<text x="581.0" y="90.55" font-size="7.1" font-weight="bold" text-anchor="end" >IDH1</text>
<rect x="586.8" y="93.68" width="14.32" height="5.5" fill="#EE1680"/>
<text x="581.0" y="98.88" font-size="7.1" font-weight="bold" text-anchor="end" >DNMT3A</text>
<rect x="586.8" y="102.01" width="14.32" height="5.5" fill="#EE1680"/>
<text x="581.0" y="107.21" font-size="7.1" font-weight="bold" text-anchor="end" >EZH2</text>
<rect x="586.8" y="110.34" width="14.32" height="5.5" fill="#EE1680"/>
<text x="581.0" y="115.54" font-size="7.1" font-weight="bold" text-anchor="end" >NPM1</text>
<rect x="586.8" y="118.67" width="14.32" height="5.5" fill="#EE1680"/>
<text x="581.0" y="123.87" font-size="7.1" font-weight="bold" text-anchor="end" >RAD21</text>
<rect x="586.8" y="127.00" width="14.32" height="5.5" fill="#EE1680"/>
<text x="581.0" y="132.20" font-size="7.1" font-weight="bold" text-anchor="end" >MPL</text>
<text x="586.80" y="35.7" font-size="7.1" font-weight="bold" text-anchor="middle" >0</text>
<text x="618.27" y="35.7" font-size="7.1" font-weight="bold" text-anchor="middle" >10</text>
<text x="649.74" y="35.7" font-size="7.1" font-weight="bold" text-anchor="middle" >20</text>
<text x="681.21" y="35.7" font-size="7.1" font-weight="bold" text-anchor="middle" >30</text>
<text x="634.00" y="13.3" font-size="7.8" font-weight="bold" text-anchor="middle" >%</text>
<g stroke="#111" stroke-width="1.0" fill="none">
<path d="M382.4,196.90V290.30H523.2"/>
<path d="M378.29999999999995,290.30H382.4"/>
<path d="M378.29999999999995,271.62H382.4"/>
<path d="M378.29999999999995,252.94H382.4"/>
<path d="M378.29999999999995,234.26H382.4"/>
<path d="M378.29999999999995,215.58H382.4"/>
<path d="M378.29999999999995,196.90H382.4"/>
<path d="M410.5,290.30v2"/>
<path d="M452.5,290.30v2"/>
<path d="M494.7,290.30v2"/>
</g>
<text x="377.09999999999997" y="292.75" font-size="6.6" font-weight="bold" text-anchor="end" >0</text>
<text x="377.09999999999997" y="274.07" font-size="6.6" font-weight="bold" text-anchor="end" >20</text>
<text x="377.09999999999997" y="255.39" font-size="6.6" font-weight="bold" text-anchor="end" >40</text>
<text x="377.09999999999997" y="236.71" font-size="6.6" font-weight="bold" text-anchor="end" >60</text>
<text x="377.09999999999997" y="218.03" font-size="6.6" font-weight="bold" text-anchor="end" >80</text>
<text x="377.09999999999997" y="199.35" font-size="6.6" font-weight="bold" text-anchor="end" >100</text>
<text x="410.5" y="301.90" font-size="7.2" font-weight="bold" text-anchor="middle" >Pt</text>
<text x="452.5" y="301.90" font-size="7.2" font-weight="bold" text-anchor="middle" >P1-2BM</text>
<text x="494.7" y="301.90" font-size="7.2" font-weight="bold" text-anchor="middle" >P3-11BM</text>
<text x="0" y="0" font-size="7.9" font-weight="bold" text-anchor="middle" transform="translate(360.2,244.0) rotate(-90)">VAF (%)</text>
<text x="452.6" y="184.55" font-size="9.0" font-weight="bold" text-anchor="middle" >Stable</text>
<path d="M398.5,243.60H422.5" stroke="#00BE00" stroke-width="0.6" stroke-dasharray="1.6,1.1" opacity="0.75"/>
<path d="M440.3,241.73H464.3" stroke="#00BE00" stroke-width="0.6" stroke-dasharray="1.6,1.1" opacity="0.75"/>
<path d="M481.8,242.67H506.8" stroke="#00BE00" stroke-width="0.6" stroke-dasharray="1.6,1.1" opacity="0.75"/>
<path d="M486.3,249.20H502.3" stroke="#00BE00" stroke-width="0.6" stroke-dasharray="1.6,1.1" opacity="0.75"/>
<path d="M410.50,200.17L410.63,200.20L410.81,200.24L411.02,200.29L411.26,200.34L411.50,200.41L411.73,200.48L411.93,200.55L412.10,200.64L412.24,200.73L412.36,200.83L412.47,200.93L412.57,201.04L412.65,201.17L412.72,201.29L412.77,201.43L412.80,201.57L412.81,201.72L412.81,201.89L412.78,202.06L412.74,202.24L412.69,202.43L412.63,202.61L412.57,202.79L412.50,202.97L412.42,203.14L412.33,203.31L412.23,203.48L412.12,203.64L412.01,203.81L411.90,203.99L411.80,204.17L411.70,204.37L411.60,204.58L411.50,204.81L411.40,205.04L411.31,205.28L411.21,205.52L411.13,205.76L411.06,206.00L411.00,206.24L410.96,206.35L410.93,206.29L410.91,206.16L410.91,206.06L410.90,206.11L410.90,206.39L410.90,207.03L410.90,208.11L410.89,209.83L410.89,212.18L410.89,214.94L410.89,217.91L410.89,220.89L410.89,223.65L410.89,226.00L410.90,227.72L410.90,228.81L410.90,229.45L410.89,229.74L410.89,229.79L410.89,229.70L410.91,229.57L410.94,229.50L411.00,229.59L411.08,229.79L411.16,229.97L411.27,230.15L411.38,230.32L411.51,230.49L411.66,230.65L411.82,230.82L412.00,230.99L412.20,231.17L412.42,231.34L412.65,231.52L412.91,231.69L413.17,231.87L413.44,232.04L413.72,232.22L414.00,232.39L414.29,232.57L414.59,232.74L414.90,232.92L415.22,233.09L415.54,233.27L415.86,233.44L416.18,233.62L416.50,233.79L416.81,233.97L417.13,234.14L417.45,234.32L417.76,234.49L418.08,234.67L418.39,234.84L418.70,235.02L419.00,235.19L419.30,235.37L419.61,235.54L419.91,235.72L420.21,235.89L420.50,236.07L420.78,236.24L421.05,236.42L421.30,236.59L421.54,236.77L421.76,236.95L421.98,237.12L422.18,237.30L422.37,237.47L422.56,237.65L422.73,237.82L422.90,238.00L423.06,238.17L423.21,238.36L423.35,238.54L423.48,238.73L423.60,238.91L423.71,239.08L423.81,239.24L423.90,239.40L423.98,239.53L424.04,239.65L424.09,239.76L424.14,239.86L424.17,239.97L424.19,240.08L424.20,240.20L424.20,240.33L424.19,240.48L424.17,240.64L424.14,240.81L424.10,240.99L424.05,241.17L423.98,241.36L423.90,241.54L423.80,241.73L423.68,241.92L423.54,242.11L423.38,242.31L423.21,242.51L423.03,242.71L422.85,242.91L422.67,243.12L422.50,243.32L422.33,243.53L422.15,243.74L421.96,243.96L421.77,244.17L421.59,244.39L421.42,244.60L421.25,244.80L421.10,245.00L420.96,245.19L420.84,245.36L420.72,245.53L420.61,245.69L420.50,245.85L420.40,246.03L420.30,246.21L420.20,246.40L420.10,246.61L420.00,246.83L419.91,247.06L419.82,247.29L419.73,247.53L419.65,247.77L419.57,248.02L419.50,248.27L419.43,248.53L419.37,248.79L419.32,249.06L419.27,249.33L419.22,249.61L419.18,249.88L419.14,250.15L419.10,250.42L419.07,250.68L419.04,250.94L419.02,251.20L419.00,251.45L418.98,251.71L418.96,251.96L418.93,252.22L418.90,252.47L418.87,252.73L418.84,253.00L418.81,253.26L418.77,253.52L418.73,253.78L418.67,254.04L418.60,254.29L418.50,254.53L418.38,254.76L418.23,254.98L418.07,255.20L417.90,255.42L417.71,255.62L417.52,255.82L417.31,256.02L417.10,256.21L416.88,256.39L416.63,256.56L416.38,256.72L416.11,256.87L415.85,257.03L415.59,257.19L415.33,257.35L415.10,257.52L414.88,257.69L414.66,257.87L414.45,258.06L414.24,258.25L414.05,258.44L413.86,258.63L413.67,258.82L413.50,259.01L413.34,259.20L413.18,259.40L413.04,259.60L412.90,259.79L412.77,259.99L412.64,260.19L412.52,260.40L412.40,260.60L412.28,260.81L412.17,261.02L412.06,261.24L411.95,261.46L411.85,261.67L411.76,261.88L411.67,262.09L411.60,262.28L411.53,262.46L411.47,262.63L411.41,262.79L411.36,262.95L411.32,263.10L411.30,263.26L411.29,263.42L411.30,263.59L411.33,263.77L411.38,263.95L411.45,264.14L411.54,264.33L411.63,264.52L411.72,264.71L411.81,264.90L411.90,265.08L411.99,265.26L412.08,265.44L412.18,265.61L412.28,265.79L412.38,265.96L412.46,266.13L412.54,266.31L412.60,266.48L412.65,266.66L412.68,266.83L412.71,267.01L412.73,267.18L412.74,267.36L412.74,267.53L412.73,267.71L412.70,267.88L412.66,268.06L412.61,268.23L412.54,268.41L412.47,268.58L412.39,268.76L412.29,268.93L412.20,269.11L412.10,269.29L411.99,269.46L411.86,269.62L411.72,269.79L411.58,269.96L411.43,270.13L411.30,270.30L411.19,270.49L411.10,270.69L411.04,270.86L410.99,270.98L410.96,271.09L410.94,271.21L410.93,271.39L410.92,271.65L410.91,272.03L410.90,272.55L410.89,273.30L410.87,274.25L410.86,275.35L410.85,276.52L410.85,277.69L410.85,278.79L410.87,279.75L410.90,280.49L410.94,281.02L410.99,281.39L411.05,281.64L411.12,281.81L411.20,281.93L411.29,282.04L411.39,282.17L411.50,282.36L411.63,282.59L411.77,282.83L411.93,283.06L412.10,283.29L412.27,283.53L412.45,283.76L412.63,284.00L412.80,284.23L412.97,284.46L413.15,284.70L413.32,284.93L413.50,285.16L413.68,285.40L413.85,285.63L414.03,285.86L414.20,286.10L414.37,286.33L414.54,286.57L414.71,286.82L414.88,287.06L415.05,287.30L415.21,287.53L415.36,287.75L415.50,287.97L415.64,288.17L415.77,288.36L415.89,288.55L416.01,288.72L416.12,288.90L416.23,289.06L416.32,289.22L416.40,289.37L416.47,289.51L416.52,289.65L416.57,289.79L416.61,289.92L416.64,290.04L416.66,290.14L416.68,290.23L416.70,290.30L404.30,290.30L404.32,290.23L404.34,290.14L404.36,290.04L404.39,289.92L404.43,289.79L404.48,289.65L404.53,289.51L404.60,289.37L404.68,289.22L404.77,289.06L404.88,288.90L404.99,288.72L405.11,288.55L405.23,288.36L405.36,288.17L405.50,287.97L405.64,287.75L405.79,287.53L405.95,287.30L406.12,287.06L406.29,286.82L406.46,286.57L406.63,286.33L406.80,286.10L406.97,285.86L407.15,285.63L407.32,285.40L407.50,285.16L407.68,284.93L407.85,284.70L408.03,284.46L408.20,284.23L408.37,284.00L408.55,283.76L408.73,283.53L408.90,283.29L409.07,283.06L409.23,282.83L409.37,282.59L409.50,282.36L409.61,282.17L409.71,282.04L409.80,281.93L409.88,281.81L409.95,281.64L410.01,281.39L410.06,281.02L410.10,280.49L410.13,279.75L410.15,278.79L410.15,277.69L410.15,276.52L410.14,275.35L410.13,274.25L410.11,273.30L410.10,272.55L410.09,272.03L410.08,271.65L410.07,271.39L410.06,271.21L410.04,271.09L410.01,270.98L409.96,270.86L409.90,270.69L409.81,270.49L409.70,270.30L409.57,270.13L409.42,269.96L409.28,269.79L409.14,269.62L409.01,269.46L408.90,269.29L408.80,269.11L408.71,268.93L408.61,268.76L408.53,268.58L408.46,268.41L408.39,268.23L408.34,268.06L408.30,267.88L408.27,267.71L408.26,267.53L408.26,267.36L408.27,267.18L408.29,267.01L408.32,266.83L408.35,266.66L408.40,266.48L408.46,266.31L408.54,266.13L408.62,265.96L408.72,265.79L408.82,265.61L408.92,265.44L409.01,265.26L409.10,265.08L409.19,264.90L409.28,264.71L409.37,264.52L409.46,264.33L409.55,264.14L409.62,263.95L409.67,263.77L409.70,263.59L409.71,263.42L409.70,263.26L409.68,263.10L409.64,262.95L409.59,262.79L409.53,262.63L409.47,262.46L409.40,262.28L409.33,262.09L409.24,261.88L409.15,261.67L409.05,261.46L408.94,261.24L408.83,261.02L408.72,260.81L408.60,260.60L408.48,260.40L408.36,260.19L408.23,259.99L408.10,259.79L407.96,259.60L407.82,259.40L407.66,259.20L407.50,259.01L407.33,258.82L407.14,258.63L406.95,258.44L406.76,258.25L406.55,258.06L406.34,257.87L406.12,257.69L405.90,257.52L405.67,257.35L405.41,257.19L405.15,257.03L404.89,256.87L404.62,256.72L404.37,256.56L404.12,256.39L403.90,256.21L403.69,256.02L403.48,255.82L403.29,255.62L403.10,255.42L402.93,255.20L402.77,254.98L402.62,254.76L402.50,254.53L402.40,254.29L402.33,254.04L402.27,253.78L402.23,253.52L402.19,253.26L402.16,253.00L402.13,252.73L402.10,252.47L402.07,252.22L402.04,251.96L402.02,251.71L402.00,251.45L401.98,251.20L401.96,250.94L401.93,250.68L401.90,250.42L401.86,250.15L401.82,249.88L401.78,249.61L401.73,249.33L401.68,249.06L401.63,248.79L401.57,248.53L401.50,248.27L401.43,248.02L401.35,247.77L401.27,247.53L401.18,247.29L401.09,247.06L401.00,246.83L400.90,246.61L400.80,246.40L400.70,246.21L400.60,246.03L400.50,245.85L400.39,245.69L400.28,245.53L400.16,245.36L400.04,245.19L399.90,245.00L399.75,244.80L399.58,244.60L399.41,244.39L399.23,244.17L399.04,243.96L398.85,243.74L398.67,243.53L398.50,243.32L398.33,243.12L398.15,242.91L397.97,242.71L397.79,242.51L397.62,242.31L397.46,242.11L397.32,241.92L397.20,241.73L397.10,241.54L397.02,241.36L396.95,241.17L396.90,240.99L396.86,240.81L396.83,240.64L396.81,240.48L396.80,240.33L396.80,240.20L396.81,240.08L396.83,239.97L396.86,239.86L396.91,239.76L396.96,239.65L397.02,239.53L397.10,239.40L397.19,239.24L397.29,239.08L397.40,238.91L397.52,238.73L397.65,238.54L397.79,238.36L397.94,238.17L398.10,238.00L398.27,237.82L398.44,237.65L398.63,237.47L398.82,237.30L399.02,237.12L399.24,236.95L399.46,236.77L399.70,236.59L399.95,236.42L400.22,236.24L400.50,236.07L400.79,235.89L401.09,235.72L401.39,235.54L401.70,235.37L402.00,235.19L402.30,235.02L402.61,234.84L402.92,234.67L403.24,234.49L403.55,234.32L403.87,234.14L404.19,233.97L404.50,233.79L404.82,233.62L405.14,233.44L405.46,233.27L405.78,233.09L406.10,232.92L406.41,232.74L406.71,232.57L407.00,232.39L407.28,232.22L407.56,232.04L407.83,231.87L408.09,231.69L408.35,231.52L408.58,231.34L408.80,231.17L409.00,230.99L409.18,230.82L409.34,230.65L409.49,230.49L409.62,230.32L409.73,230.15L409.84,229.97L409.92,229.79L410.00,229.59L410.06,229.50L410.09,229.57L410.11,229.70L410.11,229.79L410.11,229.74L410.10,229.45L410.10,228.81L410.10,227.72L410.11,226.00L410.11,223.65L410.11,220.89L410.11,217.91L410.11,214.94L410.11,212.18L410.11,209.83L410.10,208.11L410.10,207.03L410.10,206.39L410.10,206.11L410.09,206.06L410.09,206.16L410.07,206.29L410.04,206.35L410.00,206.24L409.94,206.00L409.87,205.76L409.79,205.52L409.69,205.28L409.60,205.04L409.50,204.81L409.40,204.58L409.30,204.37L409.20,204.17L409.10,203.99L408.99,203.81L408.88,203.64L408.77,203.48L408.67,203.31L408.58,203.14L408.50,202.97L408.43,202.79L408.37,202.61L408.31,202.43L408.26,202.24L408.22,202.06L408.19,201.89L408.19,201.72L408.20,201.57L408.23,201.43L408.28,201.29L408.35,201.17L408.43,201.04L408.53,200.93L408.64,200.83L408.76,200.73L408.90,200.64L409.07,200.55L409.27,200.48L409.50,200.41L409.74,200.34L409.98,200.29L410.19,200.24L410.37,200.20L410.50,200.17Z" fill="none" stroke="#00BE00" stroke-width="1.45" stroke-linejoin="round"/>
<path d="M452.50,196.43L452.63,196.47L452.81,196.51L453.02,196.55L453.26,196.61L453.50,196.67L453.73,196.74L453.93,196.82L454.10,196.90L454.24,196.99L454.36,197.09L454.47,197.20L454.57,197.31L454.65,197.43L454.72,197.56L454.77,197.69L454.80,197.83L454.81,197.99L454.81,198.15L454.78,198.33L454.74,198.51L454.69,198.69L454.63,198.87L454.57,199.06L454.50,199.24L454.42,199.41L454.33,199.57L454.23,199.74L454.12,199.91L454.01,200.08L453.90,200.25L453.80,200.44L453.70,200.64L453.60,200.85L453.50,201.07L453.40,201.30L453.31,201.54L453.21,201.78L453.13,202.03L453.06,202.27L453.00,202.50L452.96,202.63L452.93,202.60L452.91,202.51L452.91,202.45L452.90,202.51L452.90,202.79L452.90,203.38L452.90,204.37L452.89,205.94L452.89,208.06L452.89,210.56L452.89,213.25L452.89,215.93L452.89,218.43L452.89,220.55L452.90,222.12L452.90,223.11L452.90,223.71L452.90,224.00L452.90,224.07L452.91,224.02L452.92,223.92L452.95,223.88L453.00,223.99L453.06,224.18L453.13,224.36L453.22,224.53L453.31,224.70L453.42,224.86L453.53,225.03L453.66,225.20L453.80,225.39L453.94,225.57L454.08,225.76L454.22,225.94L454.38,226.13L454.56,226.33L454.77,226.55L455.01,226.79L455.30,227.07L455.64,227.38L456.03,227.72L456.46,228.09L456.92,228.47L457.39,228.87L457.87,229.27L458.34,229.67L458.80,230.06L459.25,230.45L459.72,230.84L460.19,231.24L460.66,231.64L461.13,232.05L461.57,232.45L462.00,232.84L462.40,233.23L462.77,233.62L463.14,234.01L463.48,234.40L463.81,234.79L464.11,235.16L464.40,235.53L464.66,235.88L464.90,236.22L465.11,236.54L465.29,236.85L465.45,237.15L465.58,237.44L465.70,237.71L465.81,237.97L465.91,238.22L466.00,238.46L466.09,238.68L466.17,238.87L466.24,239.05L466.29,239.21L466.34,239.38L466.37,239.55L466.39,239.74L466.40,239.96L466.39,240.21L466.37,240.49L466.33,240.79L466.27,241.10L466.21,241.41L466.15,241.70L466.07,241.97L466.00,242.20L465.94,242.38L465.89,242.51L465.84,242.62L465.79,242.71L465.71,242.81L465.59,242.93L465.43,243.09L465.20,243.32L464.89,243.61L464.51,243.95L464.08,244.34L463.61,244.74L463.12,245.17L462.65,245.59L462.20,246.01L461.80,246.40L461.43,246.78L461.06,247.15L460.71,247.53L460.37,247.90L460.05,248.27L459.76,248.64L459.51,249.01L459.30,249.39L459.14,249.78L459.03,250.17L458.95,250.56L458.90,250.96L458.87,251.35L458.85,251.74L458.83,252.11L458.80,252.47L458.77,252.81L458.75,253.12L458.73,253.41L458.72,253.70L458.72,253.99L458.72,254.30L458.71,254.63L458.70,254.99L458.69,255.40L458.68,255.83L458.68,256.28L458.67,256.75L458.67,257.22L458.65,257.70L458.63,258.17L458.60,258.64L458.56,259.09L458.51,259.55L458.45,260.00L458.39,260.45L458.32,260.91L458.25,261.36L458.17,261.82L458.10,262.28L458.02,262.74L457.94,263.21L457.85,263.67L457.76,264.14L457.67,264.61L457.58,265.08L457.49,265.55L457.40,266.02L457.31,266.49L457.22,266.97L457.13,267.46L457.04,267.94L456.95,268.42L456.86,268.88L456.78,269.33L456.70,269.75L456.63,270.15L456.57,270.53L456.51,270.89L456.45,271.24L456.39,271.58L456.33,271.91L456.27,272.23L456.20,272.55L456.12,272.87L456.04,273.17L455.96,273.46L455.87,273.75L455.78,274.03L455.69,274.32L455.59,274.60L455.50,274.89L455.40,275.18L455.30,275.48L455.20,275.78L455.09,276.07L454.99,276.37L454.89,276.66L454.79,276.95L454.70,277.22L454.61,277.49L454.53,277.76L454.46,278.02L454.38,278.27L454.31,278.53L454.24,278.78L454.17,279.03L454.10,279.28L454.03,279.53L453.97,279.78L453.91,280.04L453.85,280.29L453.79,280.54L453.73,280.78L453.67,281.01L453.60,281.24L453.53,281.45L453.44,281.63L453.36,281.81L453.27,281.98L453.19,282.16L453.11,282.35L453.05,282.57L453.00,282.83L452.97,283.13L452.94,283.48L452.93,283.85L452.92,284.24L452.92,284.63L452.94,285.00L452.96,285.34L453.00,285.63L453.06,285.87L453.14,286.08L453.23,286.26L453.33,286.42L453.44,286.57L453.54,286.71L453.63,286.87L453.70,287.03L453.76,287.21L453.81,287.39L453.86,287.57L453.91,287.75L453.94,287.93L453.97,288.10L453.99,288.27L454.00,288.43L454.00,288.59L453.99,288.74L453.97,288.89L453.94,289.03L453.90,289.17L453.87,289.31L453.83,289.43L453.80,289.55L453.77,289.67L453.73,289.78L453.68,289.89L453.64,290.00L453.59,290.09L453.56,290.17L453.52,290.24L453.50,290.30L451.50,290.30L451.48,290.24L451.44,290.17L451.41,290.09L451.36,290.00L451.32,289.89L451.27,289.78L451.23,289.67L451.20,289.55L451.17,289.43L451.13,289.31L451.10,289.17L451.06,289.03L451.03,288.89L451.01,288.74L451.00,288.59L451.00,288.43L451.01,288.27L451.03,288.10L451.06,287.93L451.09,287.75L451.14,287.57L451.19,287.39L451.24,287.21L451.30,287.03L451.37,286.87L451.46,286.71L451.56,286.57L451.67,286.42L451.77,286.26L451.86,286.08L451.94,285.87L452.00,285.63L452.04,285.34L452.06,285.00L452.08,284.63L452.08,284.24L452.07,283.85L452.06,283.48L452.03,283.13L452.00,282.83L451.95,282.57L451.89,282.35L451.81,282.16L451.73,281.98L451.64,281.81L451.56,281.63L451.47,281.45L451.40,281.24L451.33,281.01L451.27,280.78L451.21,280.54L451.15,280.29L451.09,280.04L451.03,279.78L450.97,279.53L450.90,279.28L450.83,279.03L450.76,278.78L450.69,278.53L450.62,278.27L450.54,278.02L450.47,277.76L450.39,277.49L450.30,277.22L450.21,276.95L450.11,276.66L450.01,276.37L449.91,276.07L449.80,275.78L449.70,275.48L449.60,275.18L449.50,274.89L449.41,274.60L449.31,274.32L449.22,274.03L449.13,273.75L449.04,273.46L448.96,273.17L448.88,272.87L448.80,272.55L448.73,272.23L448.67,271.91L448.61,271.58L448.55,271.24L448.49,270.89L448.43,270.53L448.37,270.15L448.30,269.75L448.22,269.33L448.14,268.88L448.05,268.42L447.96,267.94L447.87,267.46L447.78,266.97L447.69,266.49L447.60,266.02L447.51,265.55L447.42,265.08L447.33,264.61L447.24,264.14L447.15,263.67L447.06,263.21L446.98,262.74L446.90,262.28L446.83,261.82L446.75,261.36L446.68,260.91L446.61,260.45L446.55,260.00L446.49,259.55L446.44,259.09L446.40,258.64L446.37,258.17L446.35,257.70L446.33,257.22L446.33,256.75L446.32,256.28L446.32,255.83L446.31,255.40L446.30,254.99L446.29,254.63L446.28,254.30L446.28,253.99L446.28,253.70L446.27,253.41L446.25,253.12L446.23,252.81L446.20,252.47L446.17,252.11L446.15,251.74L446.13,251.35L446.10,250.96L446.05,250.56L445.97,250.17L445.86,249.78L445.70,249.39L445.49,249.01L445.24,248.64L444.95,248.27L444.63,247.90L444.29,247.53L443.94,247.15L443.57,246.78L443.20,246.40L442.80,246.01L442.35,245.59L441.88,245.17L441.39,244.74L440.92,244.34L440.49,243.95L440.11,243.61L439.80,243.32L439.57,243.09L439.41,242.93L439.29,242.81L439.21,242.71L439.16,242.62L439.11,242.51L439.06,242.38L439.00,242.20L438.93,241.97L438.85,241.70L438.79,241.41L438.73,241.10L438.67,240.79L438.63,240.49L438.61,240.21L438.60,239.96L438.61,239.74L438.63,239.55L438.66,239.38L438.71,239.21L438.76,239.05L438.83,238.87L438.91,238.68L439.00,238.46L439.09,238.22L439.19,237.97L439.30,237.71L439.42,237.44L439.55,237.15L439.71,236.85L439.89,236.54L440.10,236.22L440.34,235.88L440.60,235.53L440.89,235.16L441.19,234.79L441.52,234.40L441.86,234.01L442.23,233.62L442.60,233.23L443.00,232.84L443.43,232.45L443.87,232.05L444.34,231.64L444.81,231.24L445.28,230.84L445.75,230.45L446.20,230.06L446.66,229.67L447.13,229.27L447.61,228.87L448.08,228.47L448.54,228.09L448.97,227.72L449.36,227.38L449.70,227.07L449.99,226.79L450.23,226.55L450.44,226.33L450.62,226.13L450.78,225.94L450.92,225.76L451.06,225.57L451.20,225.39L451.34,225.20L451.47,225.03L451.58,224.86L451.69,224.70L451.78,224.53L451.87,224.36L451.94,224.18L452.00,223.99L452.05,223.88L452.08,223.92L452.09,224.02L452.10,224.07L452.10,224.00L452.10,223.71L452.10,223.11L452.10,222.12L452.11,220.55L452.11,218.43L452.11,215.93L452.11,213.25L452.11,210.56L452.11,208.06L452.11,205.94L452.10,204.37L452.10,203.38L452.10,202.79L452.10,202.51L452.09,202.45L452.09,202.51L452.07,202.60L452.04,202.63L452.00,202.50L451.94,202.27L451.87,202.03L451.79,201.78L451.69,201.54L451.60,201.30L451.50,201.07L451.40,200.85L451.30,200.64L451.20,200.44L451.10,200.25L450.99,200.08L450.88,199.91L450.77,199.74L450.67,199.57L450.58,199.41L450.50,199.24L450.43,199.06L450.37,198.87L450.31,198.69L450.26,198.51L450.22,198.33L450.19,198.15L450.19,197.99L450.20,197.83L450.23,197.69L450.28,197.56L450.35,197.43L450.43,197.31L450.53,197.20L450.64,197.09L450.76,196.99L450.90,196.90L451.07,196.82L451.27,196.74L451.50,196.67L451.74,196.61L451.98,196.55L452.19,196.51L452.37,196.47L452.50,196.43Z" fill="none" stroke="#00BE00" stroke-width="1.45" stroke-linejoin="round"/>
<path d="M494.70,196.43L494.83,196.47L495.01,196.51L495.22,196.55L495.46,196.61L495.70,196.67L495.93,196.74L496.13,196.82L496.30,196.90L496.44,196.99L496.56,197.09L496.67,197.20L496.77,197.31L496.85,197.43L496.92,197.56L496.97,197.69L497.00,197.83L497.01,197.99L497.01,198.15L496.98,198.33L496.94,198.51L496.89,198.69L496.83,198.87L496.77,199.06L496.70,199.24L496.62,199.41L496.53,199.57L496.43,199.74L496.32,199.91L496.21,200.08L496.10,200.25L496.00,200.44L495.90,200.64L495.80,200.85L495.70,201.07L495.60,201.30L495.51,201.54L495.41,201.78L495.33,202.03L495.26,202.27L495.20,202.50L495.16,202.66L495.13,202.71L495.11,202.71L495.11,202.74L495.10,202.85L495.10,203.12L495.10,203.60L495.10,204.37L495.09,205.55L495.07,207.13L495.06,208.97L495.04,210.94L495.04,212.91L495.04,214.74L495.06,216.30L495.10,217.45L495.16,218.18L495.23,218.62L495.32,218.83L495.42,218.88L495.53,218.84L495.65,218.77L495.77,218.75L495.90,218.85L496.04,219.01L496.21,219.17L496.39,219.31L496.57,219.46L496.75,219.62L496.92,219.80L497.07,220.01L497.20,220.25L497.30,220.53L497.39,220.83L497.47,221.16L497.53,221.51L497.58,221.87L497.63,222.25L497.67,222.65L497.70,223.05L497.72,223.48L497.73,223.94L497.73,224.43L497.73,224.92L497.71,225.41L497.70,225.90L497.70,226.36L497.70,226.79L497.71,227.19L497.71,227.59L497.72,227.97L497.73,228.33L497.74,228.68L497.75,229.01L497.77,229.31L497.80,229.59L497.83,229.83L497.87,230.04L497.91,230.22L497.96,230.38L498.01,230.53L498.07,230.67L498.13,230.83L498.20,230.99L498.27,231.16L498.34,231.33L498.41,231.50L498.49,231.66L498.58,231.83L498.68,232.01L498.78,232.19L498.90,232.39L499.03,232.61L499.18,232.83L499.33,233.07L499.50,233.32L499.67,233.57L499.85,233.81L500.02,234.04L500.20,234.26L500.37,234.46L500.54,234.64L500.70,234.81L500.88,234.98L501.06,235.15L501.25,235.33L501.46,235.53L501.70,235.75L501.96,236.01L502.25,236.28L502.56,236.57L502.89,236.88L503.22,237.18L503.55,237.49L503.88,237.80L504.20,238.09L504.52,238.37L504.84,238.66L505.17,238.94L505.50,239.22L505.82,239.50L506.13,239.78L506.43,240.06L506.70,240.33L506.97,240.60L507.24,240.87L507.50,241.14L507.75,241.40L507.97,241.66L508.16,241.93L508.31,242.20L508.40,242.48L508.44,242.76L508.45,243.04L508.42,243.32L508.36,243.61L508.25,243.90L508.11,244.19L507.92,244.50L507.70,244.81L507.42,245.14L507.07,245.47L506.67,245.81L506.23,246.15L505.78,246.50L505.33,246.87L504.90,247.24L504.50,247.62L504.13,248.01L503.76,248.42L503.39,248.83L503.04,249.26L502.69,249.69L502.35,250.12L502.02,250.55L501.70,250.98L501.40,251.41L501.11,251.84L500.84,252.27L500.57,252.71L500.31,253.14L500.04,253.57L499.78,254.01L499.50,254.43L499.21,254.87L498.91,255.31L498.61,255.75L498.31,256.19L498.01,256.62L497.72,257.04L497.45,257.43L497.20,257.80L496.97,258.13L496.75,258.44L496.53,258.72L496.34,258.99L496.15,259.25L495.99,259.50L495.83,259.77L495.70,260.04L495.59,260.30L495.49,260.54L495.42,260.77L495.36,261.01L495.31,261.26L495.27,261.55L495.23,261.88L495.20,262.28L495.17,262.77L495.15,263.36L495.13,264.02L495.12,264.70L495.12,265.37L495.13,265.99L495.16,266.53L495.20,266.95L495.26,267.24L495.34,267.42L495.44,267.53L495.54,267.59L495.66,267.63L495.77,267.67L495.89,267.75L496.00,267.88L496.11,268.07L496.23,268.26L496.36,268.48L496.48,268.70L496.60,268.94L496.71,269.20L496.82,269.47L496.90,269.75L496.97,270.06L497.03,270.40L497.08,270.75L497.12,271.12L497.16,271.50L497.18,271.86L497.20,272.22L497.20,272.55L497.20,272.87L497.18,273.19L497.16,273.50L497.12,273.81L497.08,274.10L497.03,274.38L496.97,274.65L496.90,274.89L496.82,275.11L496.71,275.32L496.60,275.50L496.48,275.68L496.36,275.84L496.23,275.99L496.11,276.14L496.00,276.29L495.89,276.41L495.78,276.50L495.66,276.57L495.55,276.64L495.44,276.72L495.35,276.84L495.27,277.00L495.20,277.22L495.15,277.53L495.11,277.91L495.08,278.34L495.06,278.80L495.06,279.27L495.06,279.72L495.07,280.14L495.10,280.49L495.14,280.79L495.18,281.06L495.24,281.30L495.31,281.51L495.39,281.72L495.48,281.93L495.59,282.14L495.70,282.36L495.83,282.59L495.97,282.83L496.13,283.06L496.30,283.29L496.47,283.53L496.65,283.76L496.83,284.00L497.00,284.23L497.17,284.46L497.35,284.70L497.52,284.93L497.70,285.16L497.88,285.40L498.05,285.63L498.23,285.86L498.40,286.10L498.57,286.33L498.74,286.57L498.91,286.82L499.08,287.06L499.25,287.30L499.41,287.53L499.56,287.75L499.70,287.97L499.84,288.17L499.97,288.36L500.09,288.55L500.21,288.72L500.32,288.90L500.43,289.06L500.52,289.22L500.60,289.37L500.67,289.51L500.72,289.65L500.77,289.79L500.81,289.92L500.84,290.04L500.86,290.14L500.88,290.23L500.90,290.30L488.50,290.30L488.52,290.23L488.54,290.14L488.56,290.04L488.59,289.92L488.63,289.79L488.68,289.65L488.73,289.51L488.80,289.37L488.88,289.22L488.97,289.06L489.08,288.90L489.19,288.72L489.31,288.55L489.43,288.36L489.56,288.17L489.70,287.97L489.84,287.75L489.99,287.53L490.15,287.30L490.32,287.06L490.49,286.82L490.66,286.57L490.83,286.33L491.00,286.10L491.17,285.86L491.35,285.63L491.52,285.40L491.70,285.16L491.88,284.93L492.05,284.70L492.23,284.46L492.40,284.23L492.57,284.00L492.75,283.76L492.93,283.53L493.10,283.29L493.27,283.06L493.43,282.83L493.57,282.59L493.70,282.36L493.81,282.14L493.92,281.93L494.01,281.72L494.09,281.51L494.16,281.30L494.22,281.06L494.26,280.79L494.30,280.49L494.33,280.14L494.34,279.72L494.34,279.27L494.34,278.80L494.32,278.34L494.29,277.91L494.25,277.53L494.20,277.22L494.13,277.00L494.05,276.84L493.96,276.72L493.85,276.64L493.74,276.57L493.62,276.50L493.51,276.41L493.40,276.29L493.29,276.14L493.17,275.99L493.04,275.84L492.92,275.68L492.80,275.50L492.69,275.32L492.58,275.11L492.50,274.89L492.43,274.65L492.37,274.38L492.32,274.10L492.27,273.81L492.24,273.50L492.22,273.19L492.20,272.87L492.20,272.55L492.20,272.22L492.22,271.86L492.24,271.50L492.27,271.12L492.32,270.75L492.37,270.40L492.43,270.06L492.50,269.75L492.58,269.47L492.69,269.20L492.80,268.94L492.92,268.70L493.04,268.48L493.17,268.26L493.29,268.07L493.40,267.88L493.51,267.75L493.63,267.67L493.74,267.63L493.86,267.59L493.96,267.53L494.06,267.42L494.14,267.24L494.20,266.95L494.24,266.53L494.27,265.99L494.28,265.37L494.28,264.70L494.27,264.02L494.25,263.36L494.23,262.77L494.20,262.28L494.17,261.88L494.13,261.55L494.09,261.26L494.04,261.01L493.98,260.77L493.91,260.54L493.81,260.30L493.70,260.04L493.57,259.77L493.41,259.50L493.25,259.25L493.06,258.99L492.87,258.72L492.65,258.44L492.43,258.13L492.20,257.80L491.95,257.43L491.68,257.04L491.39,256.62L491.09,256.19L490.79,255.75L490.49,255.31L490.19,254.87L489.90,254.43L489.62,254.01L489.36,253.57L489.09,253.14L488.83,252.71L488.56,252.27L488.29,251.84L488.00,251.41L487.70,250.98L487.38,250.55L487.05,250.12L486.71,249.69L486.36,249.26L486.01,248.83L485.64,248.42L485.27,248.01L484.90,247.62L484.50,247.24L484.07,246.87L483.62,246.50L483.17,246.15L482.73,245.81L482.33,245.47L481.98,245.14L481.70,244.81L481.48,244.50L481.29,244.19L481.15,243.90L481.04,243.61L480.98,243.32L480.95,243.04L480.96,242.76L481.00,242.48L481.09,242.20L481.24,241.93L481.43,241.66L481.65,241.40L481.90,241.14L482.16,240.87L482.43,240.60L482.70,240.33L482.97,240.06L483.27,239.78L483.58,239.50L483.90,239.22L484.23,238.94L484.56,238.66L484.88,238.37L485.20,238.09L485.52,237.80L485.85,237.49L486.18,237.18L486.51,236.88L486.84,236.57L487.15,236.28L487.44,236.01L487.70,235.75L487.94,235.53L488.15,235.33L488.34,235.15L488.52,234.98L488.70,234.81L488.86,234.64L489.03,234.46L489.20,234.26L489.38,234.04L489.55,233.81L489.73,233.57L489.90,233.32L490.07,233.07L490.22,232.83L490.37,232.61L490.50,232.39L490.62,232.19L490.72,232.01L490.82,231.83L490.91,231.66L490.99,231.50L491.06,231.33L491.13,231.16L491.20,230.99L491.27,230.83L491.33,230.67L491.39,230.53L491.44,230.38L491.49,230.22L491.53,230.04L491.57,229.83L491.60,229.59L491.63,229.31L491.65,229.01L491.66,228.68L491.67,228.33L491.68,227.97L491.69,227.59L491.69,227.19L491.70,226.79L491.70,226.36L491.70,225.90L491.69,225.41L491.67,224.92L491.67,224.43L491.67,223.94L491.68,223.48L491.70,223.05L491.73,222.65L491.77,222.25L491.82,221.87L491.87,221.51L491.93,221.16L492.01,220.83L492.10,220.53L492.20,220.25L492.33,220.01L492.48,219.80L492.65,219.62L492.83,219.46L493.01,219.31L493.19,219.17L493.36,219.01L493.50,218.85L493.63,218.75L493.75,218.77L493.87,218.84L493.98,218.88L494.08,218.83L494.17,218.62L494.24,218.18L494.30,217.45L494.34,216.30L494.36,214.74L494.36,212.91L494.36,210.94L494.34,208.97L494.33,207.13L494.31,205.55L494.30,204.37L494.30,203.60L494.30,203.12L494.30,202.85L494.29,202.74L494.29,202.71L494.27,202.71L494.24,202.66L494.20,202.50L494.14,202.27L494.07,202.03L493.99,201.78L493.89,201.54L493.80,201.30L493.70,201.07L493.60,200.85L493.50,200.64L493.40,200.44L493.30,200.25L493.19,200.08L493.07,199.91L492.97,199.74L492.87,199.57L492.78,199.41L492.70,199.24L492.63,199.06L492.57,198.87L492.51,198.69L492.46,198.51L492.42,198.33L492.39,198.15L492.39,197.99L492.40,197.83L492.43,197.69L492.48,197.56L492.55,197.43L492.63,197.31L492.73,197.20L492.84,197.09L492.96,196.99L493.10,196.90L493.27,196.82L493.47,196.74L493.70,196.67L493.94,196.61L494.18,196.55L494.39,196.51L494.57,196.47L494.70,196.43Z" fill="none" stroke="#00BE00" stroke-width="1.45" stroke-linejoin="round"/>
<circle cx="410.50" cy="201.57" r="2.0" fill="#00BE00"/>
<circle cx="410.50" cy="234.26" r="2.0" fill="#00BE00"/>
<circle cx="404.00" cy="238.46" r="2.0" fill="#00BE00"/>
<circle cx="398.50" cy="239.86" r="2.0" fill="#00BE00"/>
<circle cx="422.00" cy="239.86" r="2.0" fill="#00BE00"/>
<circle cx="404.50" cy="241.27" r="2.0" fill="#00BE00"/>
<circle cx="409.50" cy="240.33" r="2.0" fill="#00BE00"/>
<circle cx="415.00" cy="241.27" r="2.0" fill="#00BE00"/>
<circle cx="402.00" cy="243.13" r="2.0" fill="#00BE00"/>
<circle cx="410.50" cy="243.60" r="2.0" fill="#00BE00"/>
<circle cx="416.00" cy="243.13" r="2.0" fill="#00BE00"/>
<circle cx="409.50" cy="245.94" r="2.0" fill="#00BE00"/>
<circle cx="403.00" cy="247.80" r="2.0" fill="#00BE00"/>
<circle cx="409.50" cy="249.20" r="2.0" fill="#00BE00"/>
<circle cx="416.50" cy="248.74" r="2.0" fill="#00BE00"/>
<circle cx="404.00" cy="252.94" r="2.0" fill="#00BE00"/>
<circle cx="411.00" cy="254.34" r="2.0" fill="#00BE00"/>
<circle cx="417.00" cy="252.47" r="2.0" fill="#00BE00"/>
<circle cx="410.50" cy="266.95" r="2.0" fill="#00BE00"/>
<circle cx="410.50" cy="287.78" r="2.0" fill="#00BE00"/>
<circle cx="405.30" cy="290.11" r="2.0" fill="#00BE00"/>
<circle cx="415.70" cy="290.11" r="2.0" fill="#00BE00"/>
<circle cx="452.30" cy="197.83" r="2.0" fill="#00BE00"/>
<circle cx="446.00" cy="237.06" r="2.0" fill="#00BE00"/>
<circle cx="452.30" cy="235.66" r="2.0" fill="#00BE00"/>
<circle cx="441.00" cy="239.86" r="2.0" fill="#00BE00"/>
<circle cx="445.50" cy="240.33" r="2.0" fill="#00BE00"/>
<circle cx="450.00" cy="240.33" r="2.0" fill="#00BE00"/>
<circle cx="455.00" cy="238.93" r="2.0" fill="#00BE00"/>
<circle cx="459.50" cy="240.33" r="2.0" fill="#00BE00"/>
<circle cx="464.00" cy="239.86" r="2.0" fill="#00BE00"/>
<circle cx="452.30" cy="243.60" r="2.0" fill="#00BE00"/>
<circle cx="448.00" cy="242.67" r="2.0" fill="#00BE00"/>
<circle cx="456.50" cy="244.07" r="2.0" fill="#00BE00"/>
<circle cx="452.30" cy="247.34" r="2.0" fill="#00BE00"/>
<circle cx="447.00" cy="248.27" r="2.0" fill="#00BE00"/>
<circle cx="452.30" cy="251.07" r="2.0" fill="#00BE00"/>
<circle cx="452.30" cy="256.21" r="2.0" fill="#00BE00"/>
<circle cx="450.00" cy="261.35" r="2.0" fill="#00BE00"/>
<circle cx="455.00" cy="263.59" r="2.0" fill="#00BE00"/>
<circle cx="452.30" cy="271.62" r="2.0" fill="#00BE00"/>
<circle cx="450.00" cy="273.11" r="2.0" fill="#00BE00"/>
<circle cx="454.50" cy="272.93" r="2.0" fill="#00BE00"/>
<circle cx="452.30" cy="289.37" r="2.0" fill="#00BE00"/>
<circle cx="494.60" cy="197.83" r="2.0" fill="#00BE00"/>
<circle cx="494.60" cy="225.67" r="2.0" fill="#00BE00"/>
<circle cx="494.60" cy="233.14" r="2.0" fill="#00BE00"/>
<circle cx="488.50" cy="237.53" r="2.0" fill="#00BE00"/>
<circle cx="494.60" cy="238.00" r="2.0" fill="#00BE00"/>
<circle cx="500.50" cy="238.65" r="2.0" fill="#00BE00"/>
<circle cx="482.50" cy="242.39" r="2.0" fill="#00BE00"/>
<circle cx="486.50" cy="242.20" r="2.0" fill="#00BE00"/>
<circle cx="490.50" cy="241.73" r="2.0" fill="#00BE00"/>
<circle cx="494.60" cy="241.73" r="2.0" fill="#00BE00"/>
<circle cx="498.50" cy="241.73" r="2.0" fill="#00BE00"/>
<circle cx="502.50" cy="242.20" r="2.0" fill="#00BE00"/>
<circle cx="506.50" cy="242.67" r="2.0" fill="#00BE00"/>
<circle cx="494.60" cy="247.80" r="2.0" fill="#00BE00"/>
<circle cx="489.50" cy="250.14" r="2.0" fill="#00BE00"/>
<circle cx="499.50" cy="250.14" r="2.0" fill="#00BE00"/>
<circle cx="492.00" cy="251.63" r="2.0" fill="#00BE00"/>
<circle cx="497.00" cy="252.38" r="2.0" fill="#00BE00"/>
<circle cx="494.60" cy="253.41" r="2.0" fill="#00BE00"/>
<circle cx="494.60" cy="272.27" r="2.0" fill="#00BE00"/>
<circle cx="494.70" cy="287.78" r="2.0" fill="#00BE00"/>
<circle cx="489.50" cy="290.11" r="2.0" fill="#00BE00"/>
<circle cx="499.90" cy="290.11" r="2.0" fill="#00BE00"/>
<circle cx="410.50" cy="201.57" r="2.5" fill="#00BE00"/>
<circle cx="452.50" cy="197.83" r="2.5" fill="#00BE00"/>
<circle cx="494.70" cy="197.83" r="2.5" fill="#00BE00"/>
<g stroke="#111" stroke-width="1.0" fill="none">
<path d="M585.7,292V198.3H679.51"/>
<path d="M585.70,198.3v-3"/>
<path d="M616.97,198.3v-3"/>
<path d="M648.24,198.3v-3"/>
<path d="M679.51,198.3v-3"/>
<path d="M581.5,203.05H585.7"/>
<path d="M581.5,210.07H585.7"/>
<path d="M581.5,217.09H585.7"/>
<path d="M581.5,224.11H585.7"/>
<path d="M581.5,231.13H585.7"/>
<path d="M581.5,238.15H585.7"/>
<path d="M581.5,245.17H585.7"/>
<path d="M581.5,252.19H585.7"/>
<path d="M581.5,259.21H585.7"/>
<path d="M581.5,266.23H585.7"/>
<path d="M581.5,273.25H585.7"/>
<path d="M581.5,280.27H585.7"/>
<path d="M581.5,287.29H585.7"/>
</g>
<rect x="585.7" y="200.70" width="46.90" height="4.7" fill="#00BE00"/>
<text x="579.9000000000001" y="205.50" font-size="7.0" font-weight="bold" text-anchor="end" >EZH2</text>
<rect x="585.7" y="207.72" width="31.27" height="4.7" fill="#00BE00"/>
<text x="579.9000000000001" y="212.52" font-size="7.0" font-weight="bold" text-anchor="end" >FLT3</text>
<rect x="585.7" y="214.74" width="31.27" height="4.7" fill="#00BE00"/>
<text x="579.9000000000001" y="219.54" font-size="7.0" font-weight="bold" text-anchor="end" >IDH1</text>
<rect x="585.7" y="221.76" width="31.27" height="4.7" fill="#00BE00"/>
<text x="579.9000000000001" y="226.56" font-size="7.0" font-weight="bold" text-anchor="end" >TP53</text>
<rect x="585.7" y="228.78" width="31.27" height="4.7" fill="#00BE00"/>
<text x="579.9000000000001" y="233.58" font-size="7.0" font-weight="bold" text-anchor="end" >NPM1</text>
<rect x="585.7" y="235.80" width="31.27" height="4.7" fill="#00BE00"/>
<text x="579.9000000000001" y="240.60" font-size="7.0" font-weight="bold" text-anchor="end" >RUNX1</text>
<rect x="585.7" y="242.82" width="15.63" height="4.7" fill="#00BE00"/>
<text x="579.9000000000001" y="247.62" font-size="7.0" font-weight="bold" text-anchor="end" >NOTCH1</text>
<rect x="585.7" y="249.84" width="15.63" height="4.7" fill="#00BE00"/>
<text x="579.9000000000001" y="254.64" font-size="7.0" font-weight="bold" text-anchor="end" >IDH2</text>
<rect x="585.7" y="256.86" width="15.63" height="4.7" fill="#00BE00"/>
<text x="579.9000000000001" y="261.66" font-size="7.0" font-weight="bold" text-anchor="end" >SRSF2</text>
<rect x="585.7" y="263.88" width="15.63" height="4.7" fill="#00BE00"/>
<text x="579.9000000000001" y="268.68" font-size="7.0" font-weight="bold" text-anchor="end" >TET2</text>
<rect x="585.7" y="270.90" width="15.63" height="4.7" fill="#00BE00"/>
<text x="579.9000000000001" y="275.70" font-size="7.0" font-weight="bold" text-anchor="end" >WT1</text>
<rect x="585.7" y="277.92" width="15.63" height="4.7" fill="#00BE00"/>
<text x="579.9000000000001" y="282.72" font-size="7.0" font-weight="bold" text-anchor="end" >BCORL1</text>
<rect x="585.7" y="284.94" width="15.63" height="4.7" fill="#00BE00"/>
<text x="579.9000000000001" y="289.74" font-size="7.0" font-weight="bold" text-anchor="end" >GATA2</text>
<text x="585.70" y="194.0" font-size="7.0" font-weight="bold" text-anchor="middle" >0</text>
<text x="616.97" y="194.0" font-size="7.0" font-weight="bold" text-anchor="middle" >10</text>
<text x="648.24" y="194.0" font-size="7.0" font-weight="bold" text-anchor="middle" >20</text>
<text x="679.51" y="194.0" font-size="7.0" font-weight="bold" text-anchor="middle" >30</text>
<text x="632.61" y="171.2" font-size="7.8" font-weight="bold" text-anchor="middle" >%</text>
<g stroke="#111" stroke-width="1.0" fill="none">
<path d="M382.4,338.40V432.20H522.5"/>
<path d="M378.29999999999995,432.20H382.4"/>
<path d="M378.29999999999995,413.44H382.4"/>
<path d="M378.29999999999995,394.68H382.4"/>
<path d="M378.29999999999995,375.92H382.4"/>
<path d="M378.29999999999995,357.16H382.4"/>
<path d="M378.29999999999995,338.40H382.4"/>
<path d="M410.7,432.20v2"/>
<path d="M452.6,432.20v2"/>
<path d="M495.0,432.20v2"/>
</g>
<text x="377.09999999999997" y="434.65" font-size="6.6" font-weight="bold" text-anchor="end" >0</text>
<text x="377.09999999999997" y="415.89" font-size="6.6" font-weight="bold" text-anchor="end" >20</text>
<text x="377.09999999999997" y="397.13" font-size="6.6" font-weight="bold" text-anchor="end" >40</text>
<text x="377.09999999999997" y="378.37" font-size="6.6" font-weight="bold" text-anchor="end" >60</text>
<text x="377.09999999999997" y="359.61" font-size="6.6" font-weight="bold" text-anchor="end" >80</text>
<text x="377.09999999999997" y="340.85" font-size="6.6" font-weight="bold" text-anchor="end" >100</text>
<text x="410.7" y="443.80" font-size="7.2" font-weight="bold" text-anchor="middle" >Pt</text>
<text x="452.6" y="443.80" font-size="7.2" font-weight="bold" text-anchor="middle" >P1-2BM</text>
<text x="495.0" y="443.80" font-size="7.2" font-weight="bold" text-anchor="middle" >P3-11BM</text>
<text x="0" y="0" font-size="7.9" font-weight="bold" text-anchor="middle" transform="translate(360.2,385.0) rotate(-90)">VAF (%)</text>
<text x="452.75" y="326.3" font-size="9.0" font-weight="bold" text-anchor="middle" >Diminished</text>
<path d="M399.7,424.70H421.7" stroke="#0000F5" stroke-width="0.6" stroke-dasharray="1.6,1.1" opacity="0.75"/>
<path d="M407.2,409.69H414.2" stroke="#0000F5" stroke-width="0.6" stroke-dasharray="1.6,1.1" opacity="0.75"/>
<path d="M398.7,427.98H422.7" stroke="#0000F5" stroke-width="0.6" stroke-dasharray="1.6,1.1" opacity="0.75"/>
<path d="M414.80,386.71L414.72,386.96L414.61,387.29L414.48,387.68L414.34,388.11L414.18,388.58L414.02,389.06L413.86,389.53L413.70,389.99L413.53,390.44L413.35,390.90L413.15,391.36L412.95,391.84L412.76,392.31L412.58,392.79L412.42,393.27L412.30,393.74L412.21,394.21L412.13,394.68L412.08,395.15L412.04,395.62L412.02,396.09L412.01,396.56L412.00,397.02L412.00,397.49L412.01,397.97L412.02,398.45L412.05,398.94L412.09,399.43L412.13,399.91L412.18,400.37L412.24,400.82L412.30,401.25L412.37,401.64L412.44,402.00L412.52,402.35L412.60,402.68L412.69,403.01L412.79,403.35L412.89,403.69L413.00,404.06L413.12,404.43L413.24,404.79L413.38,405.15L413.52,405.53L413.66,405.92L413.81,406.35L413.95,406.82L414.10,407.34L414.24,407.94L414.37,408.60L414.51,409.30L414.64,410.04L414.79,410.79L414.94,411.54L415.11,412.27L415.30,412.97L415.50,413.65L415.71,414.33L415.93,415.00L416.16,415.67L416.41,416.32L416.68,416.95L416.98,417.56L417.30,418.13L417.67,418.67L418.08,419.19L418.52,419.68L418.98,420.15L419.44,420.60L419.89,421.04L420.32,421.46L420.70,421.88L421.05,422.28L421.39,422.66L421.71,423.03L422.02,423.38L422.30,423.72L422.56,424.07L422.80,424.42L423.00,424.79L423.17,425.17L423.30,425.57L423.41,425.97L423.49,426.37L423.56,426.76L423.61,427.15L423.66,427.53L423.70,427.89L423.74,428.23L423.76,428.55L423.77,428.87L423.77,429.18L423.77,429.48L423.75,429.77L423.73,430.05L423.70,430.32L423.66,430.60L423.60,430.88L423.53,431.15L423.45,431.41L423.37,431.66L423.30,431.88L423.24,432.06L423.20,432.20L398.20,432.20L398.16,432.06L398.10,431.88L398.03,431.66L397.95,431.41L397.87,431.15L397.80,430.88L397.74,430.60L397.70,430.32L397.67,430.05L397.65,429.77L397.63,429.48L397.62,429.18L397.63,428.87L397.64,428.55L397.66,428.23L397.70,427.89L397.74,427.53L397.79,427.15L397.84,426.76L397.91,426.37L397.99,425.97L398.10,425.57L398.23,425.17L398.40,424.79L398.60,424.42L398.84,424.07L399.10,423.72L399.38,423.38L399.69,423.03L400.01,422.66L400.35,422.28L400.70,421.88L401.08,421.46L401.51,421.04L401.96,420.60L402.42,420.15L402.88,419.68L403.32,419.19L403.73,418.67L404.10,418.13L404.42,417.56L404.72,416.95L404.99,416.32L405.24,415.67L405.47,415.00L405.69,414.33L405.90,413.65L406.10,412.97L406.29,412.27L406.46,411.54L406.61,410.79L406.76,410.04L406.89,409.30L407.03,408.60L407.16,407.94L407.30,407.34L407.45,406.82L407.59,406.35L407.74,405.92L407.88,405.53L408.02,405.15L408.16,404.79L408.28,404.43L408.40,404.06L408.51,403.69L408.61,403.35L408.71,403.01L408.80,402.68L408.88,402.35L408.96,402.00L409.03,401.64L409.10,401.25L409.16,400.82L409.22,400.37L409.27,399.91L409.31,399.43L409.35,398.94L409.38,398.45L409.39,397.97L409.40,397.49L409.40,397.02L409.39,396.56L409.38,396.09L409.36,395.62L409.32,395.15L409.27,394.68L409.19,394.21L409.10,393.74L408.98,393.27L408.82,392.79L408.64,392.31L408.45,391.84L408.25,391.36L408.05,390.90L407.87,390.44L407.70,389.99L407.54,389.53L407.38,389.06L407.22,388.58L407.06,388.11L406.92,387.68L406.79,387.29L406.68,386.96L406.60,386.71Z" fill="none" stroke="#0000F5" stroke-width="1.6" stroke-linejoin="round"/>
<path d="M448.8,431.73C449,424.70 456.6,424.70 456.8,431.73" fill="none" stroke="#0000F5" stroke-width="1.6"/>
<path d="M408.20,389.79L410.20,386.33L406.20,386.33Z" fill="#0000F5"/>
<path d="M413.20,389.79L415.20,386.33L411.20,386.33Z" fill="#0000F5"/>
<path d="M416.70,387.45L418.70,383.98L414.70,383.98Z" fill="#0000F5"/>
<path d="M410.70,405.83L412.70,402.37L408.70,402.37Z" fill="#0000F5"/>
<path d="M404.60,415.12L406.60,411.65L402.60,411.65Z" fill="#0000F5"/>
<path d="M410.70,416.15L412.70,412.69L408.70,412.69Z" fill="#0000F5"/>
<path d="M410.70,421.22L412.70,417.75L408.70,417.75Z" fill="#0000F5"/>
<path d="M404.00,426.28L406.00,422.82L402.00,422.82Z" fill="#0000F5"/>
<path d="M410.70,426.66L412.70,423.19L408.70,423.19Z" fill="#0000F5"/>
<path d="M404.00,430.03L406.00,426.57L402.00,426.57Z" fill="#0000F5"/>
<path d="M410.70,430.13L412.70,426.66L408.70,426.66Z" fill="#0000F5"/>
<path d="M416.50,430.60L418.50,427.13L414.50,427.13Z" fill="#0000F5"/>
<path d="M398.00,433.78L400.00,430.32L396.00,430.32Z" fill="#0000F5"/>
<path d="M404.00,433.78L406.00,430.32L402.00,430.32Z" fill="#0000F5"/>
<path d="M410.70,433.78L412.70,430.32L408.70,430.32Z" fill="#0000F5"/>
<path d="M423.00,432.94L425.00,429.48L421.00,429.48Z" fill="#0000F5"/>
<path d="M440.70,428.34L442.70,424.88L438.70,424.88Z" fill="#0000F5"/>
<path d="M443.40,430.60L445.40,427.13L441.40,427.13Z" fill="#0000F5"/>
<path d="M445.70,430.88L447.70,427.41L443.70,427.41Z" fill="#0000F5"/>
<path d="M452.00,429.66L454.00,426.19L450.00,426.19Z" fill="#0000F5"/>
<path d="M455.00,429.66L457.00,426.19L453.00,426.19Z" fill="#0000F5"/>
<path d="M465.00,426.84L467.00,423.38L463.00,423.38Z" fill="#0000F5"/>
<path d="M439.50,434.10L440.90,431.68L438.10,431.68Z" fill="#0000F5"/>
<path d="M482.00,434.10L483.40,431.68L480.60,431.68Z" fill="#0000F5"/>
<path d="M441.90,434.10L443.30,431.68L440.50,431.68Z" fill="#0000F5"/>
<path d="M484.35,434.10L485.75,431.68L482.95,431.68Z" fill="#0000F5"/>
<path d="M444.30,434.10L445.70,431.68L442.90,431.68Z" fill="#0000F5"/>
<path d="M486.70,434.10L488.10,431.68L485.30,431.68Z" fill="#0000F5"/>
<path d="M446.70,434.10L448.10,431.68L445.30,431.68Z" fill="#0000F5"/>
<path d="M489.05,434.10L490.45,431.68L487.65,431.68Z" fill="#0000F5"/>
<path d="M449.10,434.10L450.50,431.68L447.70,431.68Z" fill="#0000F5"/>
<path d="M491.40,434.10L492.80,431.68L490.00,431.68Z" fill="#0000F5"/>
<path d="M451.50,434.10L452.90,431.68L450.10,431.68Z" fill="#0000F5"/>
<path d="M493.75,434.10L495.15,431.68L492.35,431.68Z" fill="#0000F5"/>
<path d="M453.90,434.10L455.30,431.68L452.50,431.68Z" fill="#0000F5"/>
<path d="M496.10,434.10L497.50,431.68L494.70,431.68Z" fill="#0000F5"/>
<path d="M456.30,434.10L457.70,431.68L454.90,431.68Z" fill="#0000F5"/>
<path d="M498.45,434.10L499.85,431.68L497.05,431.68Z" fill="#0000F5"/>
<path d="M458.70,434.10L460.10,431.68L457.30,431.68Z" fill="#0000F5"/>
<path d="M500.80,434.10L502.20,431.68L499.40,431.68Z" fill="#0000F5"/>
<path d="M461.10,434.10L462.50,431.68L459.70,431.68Z" fill="#0000F5"/>
<path d="M503.15,434.10L504.55,431.68L501.75,431.68Z" fill="#0000F5"/>
<path d="M463.50,434.10L464.90,431.68L462.10,431.68Z" fill="#0000F5"/>
<path d="M505.50,434.10L506.90,431.68L504.10,431.68Z" fill="#0000F5"/>
<path d="M465.90,434.10L467.30,431.68L464.50,431.68Z" fill="#0000F5"/>
<path d="M507.85,434.10L509.25,431.68L506.45,431.68Z" fill="#0000F5"/>
<path d="M481,431.00H508.5" stroke="#0000F5" stroke-width="2"/>
<path d="M438.7,431.00H466.7" stroke="#0000F5" stroke-width="2"/>
<g stroke="#111" stroke-width="1.0" fill="none">
<path d="M582.7,438V343.0H676.00"/>
<path d="M582.70,343.0v-3"/>
<path d="M613.80,343.0v-3"/>
<path d="M644.90,343.0v-3"/>
<path d="M676.00,343.0v-3"/>
<path d="M578.5,348.85H582.7"/>
<path d="M578.5,358.02H582.7"/>
<path d="M578.5,367.19H582.7"/>
<path d="M578.5,376.36H582.7"/>
<path d="M578.5,385.53H582.7"/>
<path d="M578.5,394.70H582.7"/>
<path d="M578.5,403.87H582.7"/>
<path d="M578.5,413.04H582.7"/>
<path d="M578.5,422.21H582.7"/>
<path d="M578.5,431.38H582.7"/>
</g>
<rect x="582.7" y="345.80" width="88.85" height="6.1" fill="#0000F5"/>
<text x="576.9000000000001" y="351.30" font-size="7.1" font-weight="bold" text-anchor="end" >NRAS</text>
<rect x="582.7" y="354.97" width="44.44" height="6.1" fill="#0000F5"/>
<text x="576.9000000000001" y="360.47" font-size="7.1" font-weight="bold" text-anchor="end" >CEBPA</text>
<rect x="582.7" y="364.14" width="22.21" height="6.1" fill="#0000F5"/>
<text x="576.9000000000001" y="369.64" font-size="7.1" font-weight="bold" text-anchor="end" >IDH1</text>
<rect x="582.7" y="373.31" width="22.21" height="6.1" fill="#0000F5"/>
<text x="576.9000000000001" y="378.81" font-size="7.1" font-weight="bold" text-anchor="end" >IDH2</text>
<rect x="582.7" y="382.48" width="22.21" height="6.1" fill="#0000F5"/>
<text x="576.9000000000001" y="387.98" font-size="7.1" font-weight="bold" text-anchor="end" >JAK2</text>
<rect x="582.7" y="391.65" width="22.21" height="6.1" fill="#0000F5"/>
<text x="576.9000000000001" y="397.15" font-size="7.1" font-weight="bold" text-anchor="end" >KRAS</text>
<rect x="582.7" y="400.82" width="22.21" height="6.1" fill="#0000F5"/>
<text x="576.9000000000001" y="406.32" font-size="7.1" font-weight="bold" text-anchor="end" >PTEN</text>
<rect x="582.7" y="409.99" width="22.21" height="6.1" fill="#0000F5"/>
<text x="576.9000000000001" y="415.49" font-size="7.1" font-weight="bold" text-anchor="end" >PTPN11</text>
<rect x="582.7" y="419.16" width="22.21" height="6.1" fill="#0000F5"/>
<text x="576.9000000000001" y="424.66" font-size="7.1" font-weight="bold" text-anchor="end" >TP53</text>
<rect x="582.7" y="428.33" width="22.21" height="6.1" fill="#0000F5"/>
<text x="576.9000000000001" y="433.83" font-size="7.1" font-weight="bold" text-anchor="end" >FLT3</text>
<text x="582.70" y="338.7" font-size="7.1" font-weight="bold" text-anchor="middle" >0</text>
<text x="613.80" y="338.7" font-size="7.1" font-weight="bold" text-anchor="middle" >10</text>
<text x="644.90" y="338.7" font-size="7.1" font-weight="bold" text-anchor="middle" >20</text>
<text x="676.00" y="338.7" font-size="7.1" font-weight="bold" text-anchor="middle" >30</text>
<text x="629.35" y="315.8" font-size="7.8" font-weight="bold" text-anchor="middle" >%</text>
</svg>
</body></html>
